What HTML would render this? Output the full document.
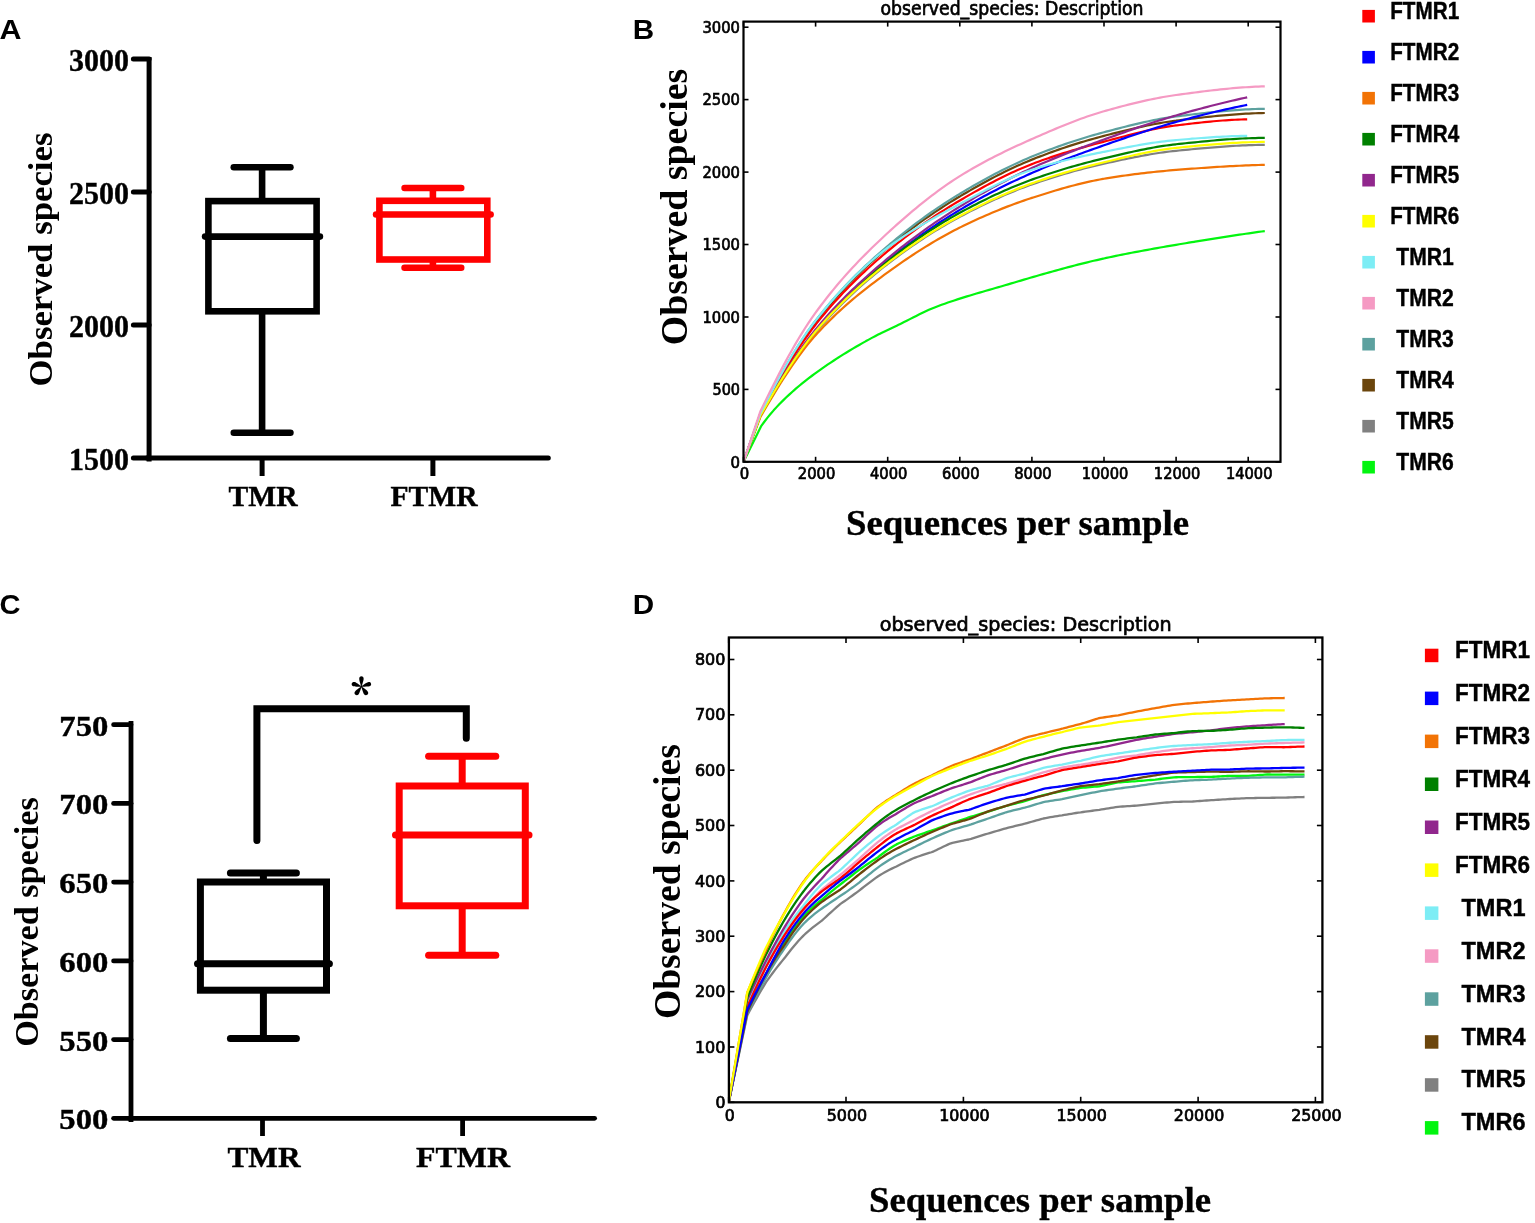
<!DOCTYPE html><html><head><meta charset="utf-8"><title>Observed species</title><style>html,body{margin:0;padding:0;background:#fff;}svg{display:block;}</style></head><body>
<div id="fig"><svg width="1535" height="1223" viewBox="0 0 1535 1223">
<defs>
<clipPath id="clipB"><rect x="743.5" y="21.6" width="537.0" height="440.2"/></clipPath>
<clipPath id="clipD"><rect x="728.9" y="637.5" width="593.5" height="464.8"/></clipPath>
</defs>
<rect x="0" y="0" width="1535" height="1223" fill="#fff"/>
<text x="-0.5" y="38.8" font-family="'Liberation Sans', Arial, sans-serif" font-size="27.5" font-weight="bold" text-anchor="start" fill="#000" textLength="22.0" lengthAdjust="spacingAndGlyphs">A</text>
<line x1="149.1" y1="57.0" x2="149.1" y2="461.5" stroke="#000" stroke-width="5.0" stroke-linecap="butt"/>
<line x1="147.0" y1="457.9" x2="548.3" y2="457.9" stroke="#000" stroke-width="5.0" stroke-linecap="round"/>
<line x1="133.4" y1="58.9" x2="149.1" y2="58.9" stroke="#000" stroke-width="5.0" stroke-linecap="round"/>
<text x="129.0" y="70.5" font-family="'Liberation Serif', 'Times New Roman', serif" font-size="32" font-weight="bold" text-anchor="end" fill="#000" textLength="60.0" lengthAdjust="spacingAndGlyphs" stroke="#000" stroke-width="0.4">3000</text>
<line x1="133.4" y1="191.9" x2="149.1" y2="191.9" stroke="#000" stroke-width="5.0" stroke-linecap="round"/>
<text x="129.0" y="203.5" font-family="'Liberation Serif', 'Times New Roman', serif" font-size="32" font-weight="bold" text-anchor="end" fill="#000" textLength="60.0" lengthAdjust="spacingAndGlyphs" stroke="#000" stroke-width="0.4">2500</text>
<line x1="133.4" y1="324.9" x2="149.1" y2="324.9" stroke="#000" stroke-width="5.0" stroke-linecap="round"/>
<text x="129.0" y="336.5" font-family="'Liberation Serif', 'Times New Roman', serif" font-size="32" font-weight="bold" text-anchor="end" fill="#000" textLength="60.0" lengthAdjust="spacingAndGlyphs" stroke="#000" stroke-width="0.4">2000</text>
<line x1="133.4" y1="457.9" x2="149.1" y2="457.9" stroke="#000" stroke-width="5.0" stroke-linecap="round"/>
<text x="129.0" y="469.5" font-family="'Liberation Serif', 'Times New Roman', serif" font-size="32" font-weight="bold" text-anchor="end" fill="#000" textLength="60.0" lengthAdjust="spacingAndGlyphs" stroke="#000" stroke-width="0.4">1500</text>
<line x1="262.1" y1="457.9" x2="262.1" y2="476.0" stroke="#000" stroke-width="5.0" stroke-linecap="butt"/>
<line x1="432.9" y1="457.9" x2="432.9" y2="476.0" stroke="#000" stroke-width="5.0" stroke-linecap="butt"/>
<text x="263.0" y="506.3" font-family="'Liberation Serif', 'Times New Roman', serif" font-size="29.5" font-weight="bold" text-anchor="middle" fill="#000" textLength="69.0" lengthAdjust="spacingAndGlyphs" stroke="#000" stroke-width="0.4">TMR</text>
<text x="434.0" y="506.3" font-family="'Liberation Serif', 'Times New Roman', serif" font-size="29.5" font-weight="bold" text-anchor="middle" fill="#000" textLength="87.0" lengthAdjust="spacingAndGlyphs" stroke="#000" stroke-width="0.4">FTMR</text>
<text transform="translate(52.0,259.5) rotate(-90)" x="0" y="0" font-family="'Liberation Serif', 'Times New Roman', serif" font-size="34.5" font-weight="bold" text-anchor="middle" textLength="254.0" lengthAdjust="spacingAndGlyphs">Observed species</text>
<line x1="262.1" y1="167.3" x2="262.1" y2="201.1" stroke="#000" stroke-width="6.6" stroke-linecap="butt"/>
<line x1="262.1" y1="311.3" x2="262.1" y2="432.7" stroke="#000" stroke-width="6.6" stroke-linecap="butt"/>
<line x1="233.8" y1="167.3" x2="290.4" y2="167.3" stroke="#000" stroke-width="6.6" stroke-linecap="round"/>
<line x1="233.8" y1="432.7" x2="290.4" y2="432.7" stroke="#000" stroke-width="6.6" stroke-linecap="round"/>
<rect x="208.4" y="201.1" width="108.2" height="110.2" fill="none" stroke="#000" stroke-width="6.6"/>
<line x1="205.1" y1="236.6" x2="319.9" y2="236.6" stroke="#000" stroke-width="6.6" stroke-linecap="round"/>
<line x1="432.9" y1="188.0" x2="432.9" y2="200.8" stroke="#ff0000" stroke-width="6.6" stroke-linecap="butt"/>
<line x1="432.9" y1="259.5" x2="432.9" y2="267.7" stroke="#ff0000" stroke-width="6.6" stroke-linecap="butt"/>
<line x1="404.6" y1="188.0" x2="461.2" y2="188.0" stroke="#ff0000" stroke-width="6.6" stroke-linecap="round"/>
<line x1="404.6" y1="267.7" x2="461.2" y2="267.7" stroke="#ff0000" stroke-width="6.6" stroke-linecap="round"/>
<rect x="379.4" y="200.8" width="107.9" height="58.7" fill="none" stroke="#ff0000" stroke-width="6.6"/>
<line x1="376.1" y1="214.5" x2="490.6" y2="214.5" stroke="#ff0000" stroke-width="6.6" stroke-linecap="round"/>
<text x="-0.6" y="613.8" font-family="'Liberation Sans', Arial, sans-serif" font-size="27.5" font-weight="bold" text-anchor="start" fill="#000" textLength="21.0" lengthAdjust="spacingAndGlyphs">C</text>
<line x1="131.0" y1="721.0" x2="131.0" y2="1122.0" stroke="#000" stroke-width="4.8" stroke-linecap="butt"/>
<line x1="129.0" y1="1118.3" x2="594.6" y2="1118.3" stroke="#000" stroke-width="4.8" stroke-linecap="round"/>
<line x1="113.6" y1="1118.3" x2="131.0" y2="1118.3" stroke="#000" stroke-width="4.8" stroke-linecap="round"/>
<text x="108.3" y="1129.3" font-family="'Liberation Serif', 'Times New Roman', serif" font-size="29.5" font-weight="bold" text-anchor="end" fill="#000" textLength="49.0" lengthAdjust="spacingAndGlyphs" stroke="#000" stroke-width="0.4">500</text>
<line x1="113.6" y1="1039.6" x2="131.0" y2="1039.6" stroke="#000" stroke-width="4.8" stroke-linecap="round"/>
<text x="108.3" y="1050.6" font-family="'Liberation Serif', 'Times New Roman', serif" font-size="29.5" font-weight="bold" text-anchor="end" fill="#000" textLength="49.0" lengthAdjust="spacingAndGlyphs" stroke="#000" stroke-width="0.4">550</text>
<line x1="113.6" y1="960.9" x2="131.0" y2="960.9" stroke="#000" stroke-width="4.8" stroke-linecap="round"/>
<text x="108.3" y="971.9" font-family="'Liberation Serif', 'Times New Roman', serif" font-size="29.5" font-weight="bold" text-anchor="end" fill="#000" textLength="49.0" lengthAdjust="spacingAndGlyphs" stroke="#000" stroke-width="0.4">600</text>
<line x1="113.6" y1="882.1" x2="131.0" y2="882.1" stroke="#000" stroke-width="4.8" stroke-linecap="round"/>
<text x="108.3" y="893.1" font-family="'Liberation Serif', 'Times New Roman', serif" font-size="29.5" font-weight="bold" text-anchor="end" fill="#000" textLength="49.0" lengthAdjust="spacingAndGlyphs" stroke="#000" stroke-width="0.4">650</text>
<line x1="113.6" y1="803.4" x2="131.0" y2="803.4" stroke="#000" stroke-width="4.8" stroke-linecap="round"/>
<text x="108.3" y="814.4" font-family="'Liberation Serif', 'Times New Roman', serif" font-size="29.5" font-weight="bold" text-anchor="end" fill="#000" textLength="49.0" lengthAdjust="spacingAndGlyphs" stroke="#000" stroke-width="0.4">700</text>
<line x1="113.6" y1="724.7" x2="131.0" y2="724.7" stroke="#000" stroke-width="4.8" stroke-linecap="round"/>
<text x="108.3" y="735.7" font-family="'Liberation Serif', 'Times New Roman', serif" font-size="29.5" font-weight="bold" text-anchor="end" fill="#000" textLength="49.0" lengthAdjust="spacingAndGlyphs" stroke="#000" stroke-width="0.4">750</text>
<line x1="262.5" y1="1118.3" x2="262.5" y2="1136.0" stroke="#000" stroke-width="4.8" stroke-linecap="butt"/>
<line x1="462.6" y1="1118.3" x2="462.6" y2="1136.0" stroke="#000" stroke-width="4.8" stroke-linecap="butt"/>
<text x="264.0" y="1166.6" font-family="'Liberation Serif', 'Times New Roman', serif" font-size="29.5" font-weight="bold" text-anchor="middle" fill="#000" textLength="73.0" lengthAdjust="spacingAndGlyphs" stroke="#000" stroke-width="0.4">TMR</text>
<text x="463.0" y="1166.6" font-family="'Liberation Serif', 'Times New Roman', serif" font-size="29.5" font-weight="bold" text-anchor="middle" fill="#000" textLength="94.0" lengthAdjust="spacingAndGlyphs" stroke="#000" stroke-width="0.4">FTMR</text>
<text transform="translate(37.6,922.0) rotate(-90)" x="0" y="0" font-family="'Liberation Serif', 'Times New Roman', serif" font-size="34" font-weight="bold" text-anchor="middle" textLength="249.5" lengthAdjust="spacingAndGlyphs">Observed species</text>
<line x1="263.4" y1="873.0" x2="263.4" y2="882.0" stroke="#000" stroke-width="7.0" stroke-linecap="butt"/>
<line x1="263.4" y1="990.2" x2="263.4" y2="1038.5" stroke="#000" stroke-width="7.0" stroke-linecap="butt"/>
<line x1="230.4" y1="873.0" x2="296.4" y2="873.0" stroke="#000" stroke-width="7.0" stroke-linecap="round"/>
<line x1="230.4" y1="1038.5" x2="296.4" y2="1038.5" stroke="#000" stroke-width="7.0" stroke-linecap="round"/>
<rect x="200.4" y="882.0" width="126.1" height="108.2" fill="none" stroke="#000" stroke-width="7.0"/>
<line x1="197.5" y1="963.7" x2="329.4" y2="963.7" stroke="#000" stroke-width="7.0" stroke-linecap="round"/>
<line x1="462.2" y1="756.3" x2="462.2" y2="786.0" stroke="#ff0000" stroke-width="7.0" stroke-linecap="butt"/>
<line x1="462.2" y1="905.8" x2="462.2" y2="955.2" stroke="#ff0000" stroke-width="7.0" stroke-linecap="butt"/>
<line x1="428.6" y1="756.3" x2="495.8" y2="756.3" stroke="#ff0000" stroke-width="7.0" stroke-linecap="round"/>
<line x1="428.6" y1="955.2" x2="495.8" y2="955.2" stroke="#ff0000" stroke-width="7.0" stroke-linecap="round"/>
<rect x="399.2" y="786.0" width="126.1" height="119.8" fill="none" stroke="#ff0000" stroke-width="7.0"/>
<line x1="395.5" y1="835.0" x2="529.0" y2="835.0" stroke="#ff0000" stroke-width="7.0" stroke-linecap="round"/>
<path d="M256.9,840.4 L256.9,708.7 L466.3,708.7 L466.3,738.2" fill="none" stroke="#000" stroke-width="7" stroke-linecap="round" stroke-linejoin="miter"/>
<text x="361.4" y="711.5" font-family="'Noto Serif CJK SC', 'Liberation Serif', serif" font-size="42.5" font-weight="900" text-anchor="middle" fill="#000">*</text>
<text x="632.7" y="38.8" font-family="'Liberation Sans', Arial, sans-serif" font-size="27.5" font-weight="bold" text-anchor="start" fill="#000" textLength="21.4" lengthAdjust="spacingAndGlyphs">B</text>
<g clip-path="url(#clipB)" fill="none" stroke-linejoin="round">
<path d="M743.50,461.90 L760.44,415.82 L763.62,410.29 L766.79,404.82 L769.96,399.42 L773.13,394.08 L776.30,388.83 L779.48,383.66 L782.65,378.59 L785.82,373.60 L788.99,368.72 L792.16,363.95 L795.33,359.28 L798.51,354.74 L801.68,350.31 L804.85,346.02 L808.02,341.86 L811.19,337.84 L814.37,333.97 L815.60,332.50 L817.54,330.23 L820.71,326.58 L823.88,323.00 L827.05,319.50 L830.23,316.06 L833.40,312.70 L836.57,309.40 L839.74,306.17 L842.91,303.00 L846.09,299.90 L849.26,296.85 L852.43,293.86 L855.60,290.93 L858.77,288.05 L861.95,285.22 L865.12,282.45 L868.29,279.72 L871.46,277.04 L874.63,274.40 L877.81,271.81 L880.98,269.25 L884.15,266.74 L887.32,264.26 L887.70,263.97 L890.49,261.82 L893.67,259.41 L896.84,257.03 L900.01,254.69 L903.18,252.38 L906.35,250.11 L909.52,247.87 L912.70,245.67 L915.87,243.50 L919.04,241.36 L922.21,239.25 L925.38,237.18 L928.56,235.15 L931.73,233.14 L934.90,231.17 L938.07,229.24 L941.24,227.33 L944.42,225.47 L947.59,223.63 L950.76,221.83 L953.93,220.06 L957.10,218.32 L959.80,216.87 L960.28,216.62 L963.45,214.94 L966.62,213.28 L969.79,211.64 L972.96,210.02 L976.14,208.43 L979.31,206.85 L982.48,205.30 L985.65,203.76 L988.82,202.26 L992.00,200.77 L995.17,199.31 L998.34,197.88 L1001.51,196.47 L1004.68,195.09 L1007.86,193.74 L1011.03,192.41 L1014.20,191.11 L1017.37,189.84 L1020.54,188.60 L1023.72,187.39 L1026.89,186.22 L1030.06,185.07 L1031.90,184.42 L1033.23,183.95 L1036.40,182.85 L1039.57,181.77 L1042.75,180.71 L1045.92,179.66 L1049.09,178.63 L1052.26,177.62 L1055.43,176.63 L1058.61,175.65 L1061.78,174.69 L1064.95,173.75 L1068.12,172.83 L1071.29,171.93 L1074.47,171.04 L1077.64,170.17 L1080.81,169.33 L1083.98,168.50 L1087.15,167.68 L1090.33,166.89 L1093.50,166.12 L1096.67,165.36 L1099.84,164.63 L1103.01,163.91 L1104.00,163.70 L1106.19,163.21 L1109.36,162.52 L1112.53,161.82 L1115.70,161.13 L1118.87,160.45 L1122.05,159.78 L1125.22,159.11 L1128.39,158.45 L1131.56,157.81 L1134.73,157.18 L1137.91,156.56 L1141.08,155.96 L1144.25,155.38 L1147.42,154.81 L1150.59,154.27 L1153.76,153.75 L1156.94,153.25 L1160.11,152.77 L1163.28,152.32 L1166.45,151.90 L1169.62,151.51 L1172.80,151.14 L1175.97,150.81 L1176.10,150.80 L1179.14,150.50 L1182.31,150.19 L1185.48,149.88 L1188.66,149.57 L1191.83,149.26 L1195.00,148.96 L1198.17,148.67 L1201.34,148.38 L1204.52,148.09 L1207.69,147.82 L1210.86,147.55 L1214.03,147.29 L1217.20,147.04 L1220.38,146.80 L1223.55,146.56 L1226.72,146.34 L1229.89,146.14 L1233.06,145.94 L1236.24,145.76 L1239.41,145.59 L1242.58,145.44 L1245.75,145.31 L1248.92,145.19 L1252.10,145.08 L1255.27,145.00 L1258.44,144.93 L1261.61,144.89 L1264.78,144.86" stroke="#808080" stroke-width="2.2"/>
<path d="M743.50,461.90 L760.98,426.40 L764.15,422.01 L767.32,417.87 L768.74,416.11 L770.49,414.00 L773.66,410.35 L776.83,406.88 L778.79,404.81 L780.00,403.57 L783.16,400.38 L786.33,397.30 L789.50,394.33 L792.67,391.46 L793.97,390.32 L795.84,388.70 L799.01,386.02 L802.18,383.42 L805.34,380.88 L808.51,378.41 L811.68,376.00 L814.85,373.63 L815.60,373.08 L818.02,371.31 L821.19,369.05 L824.36,366.84 L827.52,364.67 L830.69,362.55 L833.86,360.47 L837.03,358.42 L837.23,358.30 L840.20,356.41 L843.37,354.43 L846.53,352.47 L849.70,350.55 L852.87,348.65 L856.04,346.79 L859.21,344.95 L862.38,343.13 L865.55,341.35 L866.07,341.05 L868.71,339.59 L871.88,337.87 L875.05,336.20 L878.22,334.56 L879.99,333.66 L881.39,332.96 L884.56,331.41 L887.73,329.90 L890.89,328.41 L894.06,326.93 L897.23,325.44 L898.51,324.82 L900.40,323.91 L903.57,322.35 L906.74,320.75 L909.91,319.13 L913.07,317.52 L916.24,315.91 L919.41,314.32 L922.58,312.77 L925.75,311.27 L928.92,309.84 L932.09,308.48 L934.67,307.44 L935.25,307.21 L938.42,306.00 L941.59,304.83 L944.76,303.68 L947.93,302.57 L951.10,301.49 L954.27,300.43 L957.43,299.40 L960.60,298.38 L963.77,297.39 L966.94,296.42 L970.11,295.46 L973.28,294.51 L976.45,293.57 L979.61,292.64 L982.78,291.72 L985.95,290.80 L989.12,289.88 L992.29,288.97 L995.46,288.04 L998.63,287.12 L1000.00,286.72 L1001.79,286.19 L1004.96,285.25 L1008.13,284.32 L1011.30,283.38 L1014.47,282.45 L1017.64,281.52 L1020.80,280.58 L1023.97,279.66 L1027.14,278.73 L1030.31,277.80 L1033.48,276.88 L1036.65,275.97 L1039.82,275.06 L1042.98,274.15 L1046.15,273.25 L1049.32,272.36 L1052.49,271.47 L1055.66,270.59 L1058.83,269.72 L1062.00,268.86 L1065.16,268.00 L1068.33,267.16 L1071.50,266.32 L1074.67,265.50 L1077.84,264.68 L1081.01,263.88 L1084.18,263.09 L1087.34,262.32 L1090.51,261.55 L1093.68,260.80 L1096.85,260.07 L1100.02,259.34 L1103.19,258.64 L1104.00,258.46 L1106.36,257.95 L1109.52,257.27 L1112.69,256.60 L1115.86,255.94 L1119.03,255.29 L1122.20,254.64 L1125.37,254.01 L1128.54,253.39 L1131.70,252.77 L1134.87,252.17 L1138.04,251.57 L1141.21,250.97 L1144.38,250.39 L1147.55,249.81 L1150.72,249.23 L1153.88,248.67 L1157.05,248.10 L1160.22,247.54 L1163.39,246.99 L1166.56,246.44 L1169.73,245.90 L1172.90,245.36 L1176.06,244.82 L1179.23,244.28 L1182.40,243.75 L1185.57,243.22 L1188.74,242.69 L1191.91,242.17 L1194.12,241.80 L1195.07,241.64 L1198.24,241.12 L1201.41,240.60 L1204.58,240.08 L1207.75,239.57 L1210.92,239.06 L1214.09,238.56 L1217.25,238.06 L1220.42,237.57 L1223.59,237.08 L1226.76,236.59 L1229.93,236.11 L1233.10,235.63 L1236.27,235.16 L1239.43,234.69 L1242.60,234.22 L1245.77,233.76 L1248.94,233.30 L1252.11,232.85 L1255.28,232.40 L1258.45,231.95 L1261.61,231.51 L1264.78,231.07" stroke="#02f50f" stroke-width="2.2"/>
<path d="M743.50,461.90 L760.44,413.50 L763.62,407.42 L766.79,401.40 L769.96,395.45 L773.13,389.59 L776.30,383.81 L779.48,378.13 L782.65,372.55 L785.82,367.08 L788.99,361.72 L792.16,356.48 L795.33,351.36 L798.51,346.38 L801.68,341.53 L804.85,336.83 L808.02,332.28 L811.19,327.89 L814.37,323.67 L815.60,322.07 L817.54,319.60 L820.71,315.62 L823.88,311.73 L827.05,307.92 L830.23,304.19 L833.40,300.54 L836.57,296.96 L839.74,293.46 L842.91,290.02 L846.09,286.66 L849.26,283.36 L852.43,280.13 L855.60,276.95 L858.77,273.84 L861.95,270.78 L865.12,267.77 L868.29,264.82 L871.46,261.92 L874.63,259.06 L877.81,256.25 L880.98,253.48 L884.15,250.75 L887.32,248.06 L887.70,247.74 L890.49,245.40 L893.67,242.79 L896.84,240.21 L900.01,237.67 L903.18,235.17 L906.35,232.71 L909.52,230.29 L912.70,227.90 L915.87,225.55 L919.04,223.23 L922.21,220.95 L925.38,218.71 L928.56,216.50 L931.73,214.32 L934.90,212.17 L938.07,210.06 L941.24,207.98 L944.42,205.94 L947.59,203.92 L950.76,201.94 L953.93,199.98 L957.10,198.06 L959.80,196.44 L960.28,196.16 L963.45,194.29 L966.62,192.43 L969.79,190.59 L972.96,188.77 L976.14,186.97 L979.31,185.19 L982.48,183.43 L985.65,181.70 L988.82,179.99 L992.00,178.31 L995.17,176.65 L998.34,175.02 L1001.51,173.41 L1004.68,171.84 L1007.86,170.29 L1011.03,168.77 L1014.20,167.29 L1017.37,165.84 L1020.54,164.42 L1023.72,163.04 L1026.89,161.69 L1030.06,160.38 L1031.90,159.64 L1033.23,159.11 L1036.40,157.85 L1039.57,156.62 L1042.75,155.41 L1045.92,154.21 L1049.09,153.04 L1052.26,151.88 L1055.43,150.75 L1058.61,149.63 L1061.78,148.54 L1064.95,147.46 L1068.12,146.41 L1071.29,145.37 L1074.47,144.36 L1077.64,143.36 L1080.81,142.39 L1083.98,141.43 L1087.15,140.50 L1090.33,139.58 L1093.50,138.69 L1096.67,137.82 L1099.84,136.96 L1103.01,136.13 L1104.00,135.88 L1106.19,135.31 L1109.36,134.50 L1112.53,133.69 L1115.70,132.89 L1118.87,132.09 L1122.05,131.30 L1125.22,130.53 L1128.39,129.76 L1131.56,129.01 L1134.73,128.27 L1137.91,127.55 L1141.08,126.85 L1144.25,126.16 L1147.42,125.50 L1150.59,124.85 L1153.76,124.23 L1156.94,123.64 L1160.11,123.07 L1163.28,122.53 L1166.45,122.02 L1169.62,121.54 L1172.80,121.09 L1175.97,120.68 L1176.10,120.66 L1179.14,120.28 L1182.31,119.89 L1185.48,119.50 L1188.66,119.12 L1191.83,118.74 L1195.00,118.36 L1198.17,117.99 L1201.34,117.63 L1204.52,117.28 L1207.69,116.93 L1210.86,116.59 L1214.03,116.27 L1217.20,115.95 L1220.38,115.64 L1223.55,115.35 L1226.72,115.07 L1229.89,114.80 L1233.06,114.55 L1236.24,114.32 L1239.41,114.09 L1242.58,113.89 L1245.75,113.70 L1248.92,113.53 L1252.10,113.38 L1255.27,113.25 L1258.44,113.14 L1261.61,113.05 L1264.78,112.98" stroke="#6b450c" stroke-width="2.2"/>
<path d="M743.50,461.90 L760.44,413.21 L763.62,407.04 L766.79,400.93 L769.96,394.90 L773.13,388.95 L776.30,383.09 L779.48,377.33 L782.65,371.68 L785.82,366.13 L788.99,360.70 L792.16,355.39 L795.33,350.21 L798.51,345.17 L801.68,340.27 L804.85,335.52 L808.02,330.92 L811.19,326.49 L814.37,322.23 L815.60,320.62 L817.54,318.13 L820.71,314.13 L823.88,310.21 L827.05,306.39 L830.23,302.64 L833.40,298.98 L836.57,295.39 L839.74,291.88 L842.91,288.44 L846.09,285.07 L849.26,281.77 L852.43,278.53 L855.60,275.35 L858.77,272.24 L861.95,269.17 L865.12,266.16 L868.29,263.20 L871.46,260.28 L874.63,257.41 L877.81,254.59 L880.98,251.80 L884.15,249.04 L887.32,246.32 L887.70,246.00 L890.49,243.63 L893.67,240.99 L896.84,238.37 L900.01,235.80 L903.18,233.26 L906.35,230.76 L909.52,228.29 L912.70,225.86 L915.87,223.47 L919.04,221.11 L922.21,218.79 L925.38,216.50 L928.56,214.24 L931.73,212.02 L934.90,209.84 L938.07,207.69 L941.24,205.57 L944.42,203.48 L947.59,201.43 L950.76,199.41 L953.93,197.43 L957.10,195.47 L959.80,193.83 L960.28,193.55 L963.45,191.65 L966.62,189.77 L969.79,187.91 L972.96,186.07 L976.14,184.25 L979.31,182.45 L982.48,180.67 L985.65,178.92 L988.82,177.20 L992.00,175.50 L995.17,173.82 L998.34,172.17 L1001.51,170.55 L1004.68,168.96 L1007.86,167.40 L1011.03,165.87 L1014.20,164.37 L1017.37,162.90 L1020.54,161.46 L1023.72,160.06 L1026.89,158.69 L1030.06,157.35 L1031.90,156.60 L1033.23,156.05 L1036.40,154.78 L1039.57,153.52 L1042.75,152.28 L1045.92,151.06 L1049.09,149.86 L1052.26,148.68 L1055.43,147.52 L1058.61,146.38 L1061.78,145.26 L1064.95,144.16 L1068.12,143.08 L1071.29,142.02 L1074.47,140.98 L1077.64,139.96 L1080.81,138.96 L1083.98,137.98 L1087.15,137.02 L1090.33,136.07 L1093.50,135.15 L1096.67,134.25 L1099.84,133.37 L1103.01,132.52 L1104.00,132.25 L1106.19,131.67 L1109.36,130.83 L1112.53,129.99 L1115.70,129.16 L1118.87,128.33 L1122.05,127.51 L1125.22,126.70 L1128.39,125.90 L1131.56,125.12 L1134.73,124.35 L1137.91,123.60 L1141.08,122.86 L1144.25,122.15 L1147.42,121.45 L1150.59,120.78 L1153.76,120.14 L1156.94,119.52 L1160.11,118.93 L1163.28,118.37 L1166.45,117.85 L1169.62,117.35 L1172.80,116.90 L1175.97,116.48 L1176.10,116.46 L1179.14,116.08 L1182.31,115.68 L1185.48,115.29 L1188.66,114.89 L1191.83,114.51 L1195.00,114.13 L1198.17,113.75 L1201.34,113.39 L1204.52,113.03 L1207.69,112.68 L1210.86,112.34 L1214.03,112.01 L1217.20,111.69 L1220.38,111.38 L1223.55,111.08 L1226.72,110.80 L1229.89,110.53 L1233.06,110.28 L1236.24,110.05 L1239.41,109.83 L1242.58,109.63 L1245.75,109.44 L1248.92,109.28 L1252.10,109.14 L1255.27,109.01 L1258.44,108.91 L1261.61,108.83 L1264.78,108.78" stroke="#5da19f" stroke-width="2.2"/>
<path d="M743.50,461.90 L760.44,414.08 L763.50,408.35 L766.57,402.68 L769.63,397.08 L772.69,391.55 L775.75,386.09 L778.81,380.72 L781.87,375.44 L784.93,370.25 L788.00,365.17 L791.06,360.18 L794.12,355.31 L797.18,350.55 L800.24,345.92 L803.30,341.41 L806.36,337.03 L809.42,332.79 L812.49,328.70 L815.55,324.75 L815.60,324.68 L818.61,320.91 L821.67,317.16 L824.73,313.48 L827.79,309.87 L830.85,306.34 L833.91,302.87 L836.98,299.47 L840.04,296.14 L843.10,292.87 L846.16,289.66 L849.22,286.51 L852.28,283.42 L855.34,280.39 L858.41,277.40 L861.47,274.48 L864.53,271.60 L867.59,268.76 L870.65,265.98 L873.71,263.24 L876.77,260.54 L879.83,257.88 L882.90,255.26 L885.96,252.67 L887.70,251.22 L889.02,250.12 L892.08,247.61 L895.14,245.13 L898.20,242.69 L901.26,240.28 L904.32,237.91 L907.39,235.57 L910.45,233.27 L913.51,231.00 L916.57,228.77 L919.63,226.57 L922.69,224.39 L925.75,222.26 L928.82,220.15 L931.88,218.07 L934.94,216.03 L938.00,214.01 L941.06,212.03 L944.12,210.07 L947.18,208.15 L950.24,206.25 L953.31,204.38 L956.37,202.53 L959.43,200.72 L959.80,200.50 L962.49,198.93 L965.55,197.14 L968.61,195.38 L971.67,193.63 L974.73,191.89 L977.80,190.18 L980.86,188.48 L983.92,186.81 L986.98,185.15 L990.04,183.52 L993.10,181.91 L996.16,180.33 L999.23,178.77 L1002.29,177.25 L1005.35,175.75 L1008.41,174.28 L1011.47,172.84 L1014.53,171.43 L1017.59,170.06 L1020.65,168.72 L1023.72,167.42 L1026.78,166.16 L1029.84,164.93 L1031.90,164.13 L1032.90,163.75 L1035.96,162.59 L1039.02,161.45 L1042.08,160.34 L1045.14,159.26 L1048.21,158.19 L1051.27,157.14 L1054.33,156.12 L1057.39,155.11 L1060.45,154.13 L1063.51,153.16 L1066.57,152.21 L1069.64,151.27 L1072.70,150.35 L1075.76,149.45 L1078.82,148.56 L1081.88,147.68 L1084.94,146.82 L1088.00,145.96 L1091.06,145.12 L1094.13,144.29 L1097.19,143.47 L1100.25,142.66 L1103.31,141.85 L1104.00,141.67 L1106.37,141.05 L1109.43,140.24 L1112.49,139.43 L1115.55,138.62 L1118.62,137.81 L1121.68,137.00 L1124.74,136.19 L1127.80,135.39 L1130.86,134.61 L1133.92,133.83 L1136.98,133.07 L1140.05,132.32 L1143.11,131.59 L1146.17,130.88 L1149.23,130.19 L1152.29,129.53 L1155.35,128.89 L1158.41,128.29 L1161.47,127.71 L1164.54,127.16 L1167.60,126.65 L1170.66,126.18 L1173.72,125.75 L1176.10,125.44 L1176.78,125.36 L1179.84,124.98 L1182.90,124.61 L1185.96,124.24 L1189.03,123.87 L1192.09,123.51 L1195.15,123.16 L1198.21,122.82 L1201.27,122.49 L1204.33,122.16 L1207.39,121.85 L1210.45,121.56 L1213.52,121.27 L1216.58,121.00 L1219.64,120.75 L1222.70,120.51 L1225.76,120.29 L1228.82,120.09 L1231.88,119.92 L1234.95,119.76 L1238.01,119.62 L1241.07,119.51 L1244.13,119.42 L1247.19,119.36" stroke="#ff0000" stroke-width="2.2"/>
<path d="M743.50,461.90 L760.44,415.24 L763.50,409.84 L766.57,404.50 L769.63,399.22 L772.69,394.00 L775.75,388.86 L778.81,383.80 L781.87,378.82 L784.93,373.92 L788.00,369.12 L791.06,364.41 L794.12,359.80 L797.18,355.31 L800.24,350.92 L803.30,346.65 L806.36,342.50 L809.42,338.48 L812.49,334.58 L815.55,330.83 L815.60,330.77 L818.61,327.18 L821.67,323.61 L824.73,320.11 L827.79,316.69 L830.85,313.33 L833.91,310.03 L836.98,306.80 L840.04,303.64 L843.10,300.53 L846.16,297.47 L849.22,294.48 L852.28,291.53 L855.34,288.64 L858.41,285.79 L861.47,282.98 L864.53,280.22 L867.59,277.51 L870.65,274.82 L873.71,272.18 L876.77,269.57 L879.83,266.99 L882.90,264.44 L885.96,261.91 L887.70,260.49 L889.02,259.42 L892.08,256.95 L895.14,254.51 L898.20,252.10 L901.26,249.73 L904.32,247.38 L907.39,245.07 L910.45,242.78 L913.51,240.52 L916.57,238.30 L919.63,236.10 L922.69,233.93 L925.75,231.79 L928.82,229.68 L931.88,227.60 L934.94,225.55 L938.00,223.53 L941.06,221.53 L944.12,219.56 L947.18,217.62 L950.24,215.71 L953.31,213.83 L956.37,211.97 L959.43,210.14 L959.80,209.92 L962.49,208.33 L965.55,206.55 L968.61,204.79 L971.67,203.05 L974.73,201.34 L977.80,199.64 L980.86,197.97 L983.92,196.31 L986.98,194.68 L990.04,193.07 L993.10,191.47 L996.16,189.90 L999.23,188.35 L1002.29,186.82 L1005.35,185.30 L1008.41,183.81 L1011.47,182.34 L1014.53,180.88 L1017.59,179.44 L1020.65,178.03 L1023.72,176.63 L1026.78,175.24 L1029.84,173.88 L1031.90,172.97 L1032.90,172.53 L1035.96,171.20 L1039.02,169.90 L1042.08,168.61 L1045.14,167.33 L1048.21,166.08 L1051.27,164.84 L1054.33,163.62 L1057.39,162.41 L1060.45,161.21 L1063.51,160.03 L1066.57,158.86 L1069.64,157.70 L1072.70,156.56 L1075.76,155.42 L1078.82,154.30 L1081.88,153.18 L1084.94,152.07 L1088.00,150.97 L1091.06,149.87 L1094.13,148.78 L1097.19,147.69 L1100.25,146.61 L1103.31,145.54 L1104.00,145.29 L1106.37,144.46 L1109.43,143.39 L1112.49,142.32 L1115.55,141.26 L1118.62,140.20 L1121.68,139.14 L1124.74,138.09 L1127.80,137.05 L1130.86,136.01 L1133.92,134.98 L1136.98,133.96 L1140.05,132.95 L1143.11,131.95 L1146.17,130.96 L1149.23,129.98 L1152.29,129.01 L1155.35,128.06 L1158.41,127.12 L1161.47,126.19 L1164.54,125.27 L1167.60,124.38 L1170.66,123.49 L1173.72,122.63 L1176.10,121.96 L1176.78,121.78 L1179.84,120.94 L1182.90,120.11 L1185.96,119.29 L1189.03,118.47 L1192.09,117.67 L1195.15,116.87 L1198.21,116.08 L1201.27,115.30 L1204.33,114.53 L1207.39,113.77 L1210.45,113.02 L1213.52,112.28 L1216.58,111.55 L1219.64,110.84 L1222.70,110.13 L1225.76,109.43 L1228.82,108.74 L1231.88,108.07 L1234.95,107.40 L1238.01,106.75 L1241.07,106.11 L1244.13,105.48 L1247.19,104.87" stroke="#0000ff" stroke-width="2.2"/>
<path d="M743.50,461.90 L760.44,416.98 L763.62,411.47 L766.79,406.03 L769.96,400.66 L773.13,395.36 L776.30,390.15 L779.48,385.03 L782.65,380.01 L785.82,375.09 L788.99,370.28 L792.16,365.60 L795.33,361.03 L798.51,356.60 L801.68,352.30 L804.85,348.15 L808.02,344.16 L811.19,340.32 L814.37,336.64 L815.60,335.26 L817.54,333.12 L820.71,329.70 L823.88,326.36 L827.05,323.11 L830.23,319.94 L833.40,316.84 L836.57,313.82 L839.74,310.86 L842.91,307.98 L846.09,305.15 L849.26,302.39 L852.43,299.68 L855.60,297.03 L858.77,294.42 L861.95,291.86 L865.12,289.35 L868.29,286.87 L871.46,284.43 L874.63,282.02 L877.81,279.64 L880.98,277.29 L884.15,274.96 L887.32,272.65 L887.70,272.37 L890.49,270.35 L893.67,268.09 L896.84,265.84 L900.01,263.62 L903.18,261.43 L906.35,259.27 L909.52,257.13 L912.70,255.02 L915.87,252.94 L919.04,250.89 L922.21,248.88 L925.38,246.89 L928.56,244.94 L931.73,243.02 L934.90,241.13 L938.07,239.28 L941.24,237.46 L944.42,235.68 L947.59,233.94 L950.76,232.24 L953.93,230.57 L957.10,228.95 L959.80,227.60 L960.28,227.36 L963.45,225.80 L966.62,224.27 L969.79,222.76 L972.96,221.26 L976.14,219.80 L979.31,218.35 L982.48,216.93 L985.65,215.53 L988.82,214.15 L992.00,212.80 L995.17,211.47 L998.34,210.17 L1001.51,208.89 L1004.68,207.63 L1007.86,206.40 L1011.03,205.19 L1014.20,204.01 L1017.37,202.86 L1020.54,201.73 L1023.72,200.62 L1026.89,199.54 L1030.06,198.49 L1031.90,197.89 L1033.23,197.46 L1036.40,196.44 L1039.57,195.43 L1042.75,194.43 L1045.92,193.44 L1049.09,192.45 L1052.26,191.49 L1055.43,190.53 L1058.61,189.59 L1061.78,188.67 L1064.95,187.77 L1068.12,186.88 L1071.29,186.02 L1074.47,185.19 L1077.64,184.37 L1080.81,183.59 L1083.98,182.83 L1087.15,182.10 L1090.33,181.40 L1093.50,180.73 L1096.67,180.09 L1099.84,179.50 L1103.01,178.93 L1104.00,178.77 L1106.19,178.40 L1109.36,177.89 L1112.53,177.38 L1115.70,176.89 L1118.87,176.41 L1122.05,175.95 L1125.22,175.50 L1128.39,175.06 L1131.56,174.63 L1134.73,174.21 L1137.91,173.81 L1141.08,173.42 L1144.25,173.04 L1147.42,172.68 L1150.59,172.33 L1153.76,171.99 L1156.94,171.66 L1160.11,171.34 L1163.28,171.04 L1166.45,170.74 L1169.62,170.46 L1172.80,170.19 L1175.97,169.94 L1176.10,169.93 L1179.14,169.69 L1182.31,169.44 L1185.48,169.19 L1188.66,168.95 L1191.83,168.71 L1195.00,168.48 L1198.17,168.24 L1201.34,168.02 L1204.52,167.79 L1207.69,167.57 L1210.86,167.36 L1214.03,167.15 L1217.20,166.95 L1220.38,166.75 L1223.55,166.56 L1226.72,166.38 L1229.89,166.21 L1233.06,166.04 L1236.24,165.88 L1239.41,165.73 L1242.58,165.58 L1245.75,165.45 L1248.92,165.33 L1252.10,165.21 L1255.27,165.11 L1258.44,165.01 L1261.61,164.93 L1264.78,164.85" stroke="#f27305" stroke-width="2.2"/>
<path d="M743.50,461.90 L760.44,415.24 L763.62,409.63 L766.79,404.09 L769.96,398.61 L773.13,393.21 L776.30,387.88 L779.48,382.64 L782.65,377.50 L785.82,372.44 L788.99,367.49 L792.16,362.65 L795.33,357.92 L798.51,353.31 L801.68,348.83 L804.85,344.47 L808.02,340.26 L811.19,336.18 L814.37,332.25 L815.60,330.77 L817.54,328.46 L820.71,324.76 L823.88,321.13 L827.05,317.58 L830.23,314.10 L833.40,310.69 L836.57,307.35 L839.74,304.08 L842.91,300.87 L846.09,297.72 L849.26,294.64 L852.43,291.61 L855.60,288.64 L858.77,285.72 L861.95,282.85 L865.12,280.03 L868.29,277.26 L871.46,274.54 L874.63,271.85 L877.81,269.21 L880.98,266.61 L884.15,264.04 L887.32,261.51 L887.70,261.21 L890.49,259.01 L893.67,256.55 L896.84,254.11 L900.01,251.71 L903.18,249.35 L906.35,247.01 L909.52,244.71 L912.70,242.44 L915.87,240.21 L919.04,238.01 L922.21,235.84 L925.38,233.71 L928.56,231.61 L931.73,229.55 L934.90,227.52 L938.07,225.52 L941.24,223.56 L944.42,221.64 L947.59,219.75 L950.76,217.90 L953.93,216.08 L957.10,214.30 L959.80,212.82 L960.28,212.56 L963.45,210.84 L966.62,209.14 L969.79,207.46 L972.96,205.81 L976.14,204.17 L979.31,202.56 L982.48,200.97 L985.65,199.41 L988.82,197.87 L992.00,196.35 L995.17,194.86 L998.34,193.40 L1001.51,191.96 L1004.68,190.55 L1007.86,189.17 L1011.03,187.81 L1014.20,186.49 L1017.37,185.19 L1020.54,183.92 L1023.72,182.69 L1026.89,181.48 L1030.06,180.30 L1031.90,179.63 L1033.23,179.16 L1036.40,178.03 L1039.57,176.93 L1042.75,175.84 L1045.92,174.77 L1049.09,173.72 L1052.26,172.69 L1055.43,171.68 L1058.61,170.69 L1061.78,169.71 L1064.95,168.75 L1068.12,167.81 L1071.29,166.88 L1074.47,165.98 L1077.64,165.09 L1080.81,164.21 L1083.98,163.36 L1087.15,162.52 L1090.33,161.70 L1093.50,160.89 L1096.67,160.10 L1099.84,159.32 L1103.01,158.57 L1104.00,158.33 L1106.19,157.82 L1109.36,157.07 L1112.53,156.33 L1115.70,155.59 L1118.87,154.85 L1122.05,154.11 L1125.22,153.39 L1128.39,152.67 L1131.56,151.97 L1134.73,151.28 L1137.91,150.60 L1141.08,149.94 L1144.25,149.30 L1147.42,148.68 L1150.59,148.08 L1153.76,147.50 L1156.94,146.95 L1160.11,146.43 L1163.28,145.94 L1166.45,145.48 L1169.62,145.05 L1172.80,144.65 L1175.97,144.29 L1176.10,144.28 L1179.14,143.95 L1182.31,143.62 L1185.48,143.28 L1188.66,142.95 L1191.83,142.62 L1195.00,142.30 L1198.17,141.98 L1201.34,141.67 L1204.52,141.36 L1207.69,141.06 L1210.86,140.77 L1214.03,140.49 L1217.20,140.22 L1220.38,139.96 L1223.55,139.71 L1226.72,139.47 L1229.89,139.25 L1233.06,139.04 L1236.24,138.85 L1239.41,138.67 L1242.58,138.51 L1245.75,138.36 L1248.92,138.24 L1252.10,138.13 L1255.27,138.04 L1258.44,137.97 L1261.61,137.93 L1264.78,137.90" stroke="#008000" stroke-width="2.2"/>
<path d="M743.50,461.90 L760.44,414.81 L763.50,409.35 L766.57,403.95 L769.63,398.62 L772.69,393.35 L775.75,388.16 L778.81,383.04 L781.87,378.01 L784.93,373.06 L788.00,368.21 L791.06,363.45 L794.12,358.80 L797.18,354.25 L800.24,349.82 L803.30,345.51 L806.36,341.32 L809.42,337.25 L812.49,333.32 L815.55,329.53 L815.60,329.46 L818.61,325.84 L821.67,322.24 L824.73,318.71 L827.79,315.25 L830.85,311.86 L833.91,308.54 L836.98,305.29 L840.04,302.09 L843.10,298.96 L846.16,295.88 L849.22,292.86 L852.28,289.89 L855.34,286.97 L858.41,284.10 L861.47,281.27 L864.53,278.48 L867.59,275.73 L870.65,273.02 L873.71,270.34 L876.77,267.69 L879.83,265.07 L882.90,262.48 L885.96,259.91 L887.70,258.46 L889.02,257.37 L892.08,254.85 L895.14,252.36 L898.20,249.91 L901.26,247.48 L904.32,245.08 L907.39,242.72 L910.45,240.38 L913.51,238.07 L916.57,235.79 L919.63,233.54 L922.69,231.32 L925.75,229.13 L928.82,226.96 L931.88,224.82 L934.94,222.71 L938.00,220.63 L941.06,218.58 L944.12,216.55 L947.18,214.55 L950.24,212.58 L953.31,210.63 L956.37,208.71 L959.43,206.81 L959.80,206.59 L962.49,204.94 L965.55,203.09 L968.61,201.26 L971.67,199.46 L974.73,197.67 L977.80,195.90 L980.86,194.15 L983.92,192.42 L986.98,190.72 L990.04,189.03 L993.10,187.36 L996.16,185.72 L999.23,184.09 L1002.29,182.49 L1005.35,180.91 L1008.41,179.34 L1011.47,177.80 L1014.53,176.28 L1017.59,174.78 L1020.65,173.30 L1023.72,171.84 L1026.78,170.40 L1029.84,168.99 L1031.90,168.04 L1032.90,167.59 L1035.96,166.21 L1039.02,164.86 L1042.08,163.53 L1045.14,162.21 L1048.21,160.91 L1051.27,159.64 L1054.33,158.37 L1057.39,157.13 L1060.45,155.89 L1063.51,154.68 L1066.57,153.47 L1069.64,152.28 L1072.70,151.10 L1075.76,149.93 L1078.82,148.77 L1081.88,147.62 L1084.94,146.48 L1088.00,145.34 L1091.06,144.21 L1094.13,143.09 L1097.19,141.97 L1100.25,140.86 L1103.31,139.75 L1104.00,139.50 L1106.37,138.64 L1109.43,137.54 L1112.49,136.44 L1115.55,135.34 L1118.62,134.25 L1121.68,133.17 L1124.74,132.09 L1127.80,131.02 L1130.86,129.95 L1133.92,128.90 L1136.98,127.85 L1140.05,126.81 L1143.11,125.78 L1146.17,124.76 L1149.23,123.76 L1152.29,122.76 L1155.35,121.77 L1158.41,120.80 L1161.47,119.84 L1164.54,118.89 L1167.60,117.96 L1170.66,117.04 L1173.72,116.14 L1176.10,115.44 L1176.78,115.25 L1179.84,114.37 L1182.90,113.50 L1185.96,112.64 L1189.03,111.78 L1192.09,110.93 L1195.15,110.10 L1198.21,109.27 L1201.27,108.45 L1204.33,107.64 L1207.39,106.84 L1210.45,106.04 L1213.52,105.26 L1216.58,104.49 L1219.64,103.72 L1222.70,102.97 L1225.76,102.23 L1228.82,101.50 L1231.88,100.77 L1234.95,100.06 L1238.01,99.36 L1241.07,98.67 L1244.13,98.00 L1247.19,97.33" stroke="#91278d" stroke-width="2.2"/>
<path d="M743.50,461.90 L760.44,415.53 L763.62,409.94 L766.79,404.41 L769.96,398.94 L773.13,393.56 L776.30,388.25 L779.48,383.03 L782.65,377.90 L785.82,372.87 L788.99,367.94 L792.16,363.12 L795.33,358.42 L798.51,353.84 L801.68,349.38 L804.85,345.06 L808.02,340.88 L811.19,336.85 L814.37,332.96 L815.60,331.49 L817.54,329.21 L820.71,325.56 L823.88,321.98 L827.05,318.47 L830.23,315.04 L833.40,311.68 L836.57,308.39 L839.74,305.16 L842.91,302.00 L846.09,298.90 L849.26,295.87 L852.43,292.89 L855.60,289.97 L858.77,287.10 L861.95,284.29 L865.12,281.52 L868.29,278.81 L871.46,276.14 L874.63,273.51 L877.81,270.92 L880.98,268.37 L884.15,265.86 L887.32,263.39 L887.70,263.10 L890.49,260.95 L893.67,258.54 L896.84,256.17 L900.01,253.83 L903.18,251.53 L906.35,249.25 L909.52,247.02 L912.70,244.81 L915.87,242.64 L919.04,240.51 L922.21,238.40 L925.38,236.33 L928.56,234.30 L931.73,232.29 L934.90,230.32 L938.07,228.39 L941.24,226.48 L944.42,224.61 L947.59,222.77 L950.76,220.97 L953.93,219.20 L957.10,217.46 L959.80,216.00 L960.28,215.75 L963.45,214.07 L966.62,212.40 L969.79,210.76 L972.96,209.14 L976.14,207.54 L979.31,205.96 L982.48,204.40 L985.65,202.87 L988.82,201.36 L992.00,199.87 L995.17,198.41 L998.34,196.97 L1001.51,195.55 L1004.68,194.17 L1007.86,192.81 L1011.03,191.47 L1014.20,190.17 L1017.37,188.89 L1020.54,187.64 L1023.72,186.42 L1026.89,185.22 L1030.06,184.06 L1031.90,183.40 L1033.23,182.93 L1036.40,181.82 L1039.57,180.73 L1042.75,179.65 L1045.92,178.60 L1049.09,177.56 L1052.26,176.54 L1055.43,175.54 L1058.61,174.55 L1061.78,173.59 L1064.95,172.64 L1068.12,171.70 L1071.29,170.79 L1074.47,169.89 L1077.64,169.00 L1080.81,168.13 L1083.98,167.28 L1087.15,166.44 L1090.33,165.62 L1093.50,164.82 L1096.67,164.02 L1099.84,163.24 L1103.01,162.48 L1104.00,162.25 L1106.19,161.73 L1109.36,160.97 L1112.53,160.21 L1115.70,159.45 L1118.87,158.69 L1122.05,157.94 L1125.22,157.19 L1128.39,156.46 L1131.56,155.73 L1134.73,155.02 L1137.91,154.32 L1141.08,153.64 L1144.25,152.98 L1147.42,152.34 L1150.59,151.72 L1153.76,151.13 L1156.94,150.57 L1160.11,150.04 L1163.28,149.54 L1166.45,149.08 L1169.62,148.65 L1172.80,148.26 L1175.97,147.92 L1176.10,147.90 L1179.14,147.59 L1182.31,147.27 L1185.48,146.95 L1188.66,146.63 L1191.83,146.32 L1195.00,146.01 L1198.17,145.71 L1201.34,145.41 L1204.52,145.12 L1207.69,144.84 L1210.86,144.57 L1214.03,144.30 L1217.20,144.05 L1220.38,143.81 L1223.55,143.57 L1226.72,143.35 L1229.89,143.15 L1233.06,142.95 L1236.24,142.78 L1239.41,142.61 L1242.58,142.47 L1245.75,142.34 L1248.92,142.23 L1252.10,142.13 L1255.27,142.06 L1258.44,142.00 L1261.61,141.97 L1264.78,141.96" stroke="#ffff00" stroke-width="2.2"/>
<path d="M743.50,461.90 L760.44,413.21 L763.50,407.22 L766.57,401.29 L769.63,395.44 L772.69,389.66 L775.75,383.97 L778.81,378.37 L781.87,372.87 L784.93,367.48 L788.00,362.19 L791.06,357.02 L794.12,351.98 L797.18,347.07 L800.24,342.29 L803.30,337.66 L806.36,333.18 L809.42,328.85 L812.49,324.69 L815.55,320.69 L815.60,320.62 L818.61,316.82 L821.67,313.02 L824.73,309.29 L827.79,305.63 L830.85,302.05 L833.91,298.53 L836.98,295.08 L840.04,291.71 L843.10,288.40 L846.16,285.16 L849.22,281.99 L852.28,278.88 L855.34,275.84 L858.41,272.87 L861.47,269.97 L864.53,267.13 L867.59,264.36 L870.65,261.65 L873.71,259.00 L876.77,256.43 L879.83,253.91 L882.90,251.46 L885.96,249.07 L887.70,247.74 L889.02,246.74 L892.08,244.48 L895.14,242.26 L898.20,240.10 L901.26,238.00 L904.32,235.94 L907.39,233.92 L910.45,231.95 L913.51,230.02 L916.57,228.13 L919.63,226.27 L922.69,224.44 L925.75,222.65 L928.82,220.88 L931.88,219.14 L934.94,217.42 L938.00,215.72 L941.06,214.04 L944.12,212.37 L947.18,210.72 L950.24,209.08 L953.31,207.44 L956.37,205.81 L959.43,204.18 L959.80,203.98 L962.49,202.54 L965.55,200.90 L968.61,199.26 L971.67,197.62 L974.73,195.99 L977.80,194.36 L980.86,192.73 L983.92,191.13 L986.98,189.53 L990.04,187.96 L993.10,186.40 L996.16,184.87 L999.23,183.37 L1002.29,181.89 L1005.35,180.45 L1008.41,179.05 L1011.47,177.68 L1014.53,176.36 L1017.59,175.08 L1020.65,173.85 L1023.72,172.67 L1026.78,171.54 L1029.84,170.47 L1031.90,169.78 L1032.90,169.46 L1035.96,168.48 L1039.02,167.53 L1042.08,166.60 L1045.14,165.69 L1048.21,164.81 L1051.27,163.95 L1054.33,163.12 L1057.39,162.30 L1060.45,161.50 L1063.51,160.72 L1066.57,159.96 L1069.64,159.22 L1072.70,158.49 L1075.76,157.78 L1078.82,157.09 L1081.88,156.41 L1084.94,155.74 L1088.00,155.08 L1091.06,154.43 L1094.13,153.80 L1097.19,153.17 L1100.25,152.56 L1103.31,151.95 L1104.00,151.81 L1106.37,151.35 L1109.43,150.74 L1112.49,150.14 L1115.55,149.54 L1118.62,148.94 L1121.68,148.34 L1124.74,147.76 L1127.80,147.17 L1130.86,146.60 L1133.92,146.04 L1136.98,145.49 L1140.05,144.95 L1143.11,144.43 L1146.17,143.92 L1149.23,143.43 L1152.29,142.96 L1155.35,142.51 L1158.41,142.08 L1161.47,141.67 L1164.54,141.29 L1167.60,140.93 L1170.66,140.60 L1173.72,140.29 L1176.10,140.08 L1176.78,140.02 L1179.84,139.75 L1182.90,139.49 L1185.96,139.23 L1189.03,138.98 L1192.09,138.72 L1195.15,138.48 L1198.21,138.24 L1201.27,138.00 L1204.33,137.78 L1207.39,137.56 L1210.45,137.35 L1213.52,137.15 L1216.58,136.97 L1219.64,136.79 L1222.70,136.63 L1225.76,136.48 L1228.82,136.34 L1231.88,136.22 L1234.95,136.12 L1238.01,136.03 L1241.07,135.96 L1244.13,135.91 L1247.19,135.88" stroke="#7dedf5" stroke-width="2.2"/>
<path d="M743.50,461.90 L760.44,411.18 L763.62,404.62 L766.79,398.12 L769.96,391.71 L773.13,385.39 L776.30,379.16 L779.48,373.03 L782.65,367.01 L785.82,361.11 L788.99,355.33 L792.16,349.68 L795.33,344.17 L798.51,338.80 L801.68,333.59 L804.85,328.53 L808.02,323.63 L811.19,318.91 L814.37,314.37 L815.60,312.65 L817.54,310.00 L820.71,305.73 L823.88,301.56 L827.05,297.48 L830.23,293.49 L833.40,289.59 L836.57,285.77 L839.74,282.04 L842.91,278.37 L846.09,274.79 L849.26,271.27 L852.43,267.82 L855.60,264.43 L858.77,261.10 L861.95,257.83 L865.12,254.61 L868.29,251.44 L871.46,248.32 L874.63,245.24 L877.81,242.21 L880.98,239.21 L884.15,236.24 L887.32,233.31 L887.70,232.96 L890.49,230.40 L893.67,227.52 L896.84,224.67 L900.01,221.85 L903.18,219.07 L906.35,216.32 L909.52,213.60 L912.70,210.92 L915.87,208.28 L919.04,205.67 L922.21,203.11 L925.38,200.58 L928.56,198.10 L931.73,195.66 L934.90,193.26 L938.07,190.92 L941.24,188.61 L944.42,186.36 L947.59,184.16 L950.76,182.00 L953.93,179.90 L957.10,177.86 L959.80,176.16 L960.28,175.86 L963.45,173.91 L966.62,172.00 L969.79,170.13 L972.96,168.29 L976.14,166.49 L979.31,164.72 L982.48,162.98 L985.65,161.27 L988.82,159.59 L992.00,157.94 L995.17,156.32 L998.34,154.72 L1001.51,153.15 L1004.68,151.60 L1007.86,150.07 L1011.03,148.56 L1014.20,147.07 L1017.37,145.60 L1020.54,144.15 L1023.72,142.71 L1026.89,141.29 L1030.06,139.88 L1031.90,139.06 L1033.23,138.48 L1036.40,137.08 L1039.57,135.69 L1042.75,134.31 L1045.92,132.93 L1049.09,131.56 L1052.26,130.21 L1055.43,128.87 L1058.61,127.54 L1061.78,126.23 L1064.95,124.94 L1068.12,123.67 L1071.29,122.42 L1074.47,121.20 L1077.64,120.00 L1080.81,118.83 L1083.98,117.68 L1087.15,116.57 L1090.33,115.49 L1093.50,114.44 L1096.67,113.43 L1099.84,112.46 L1103.01,111.52 L1104.00,111.24 L1106.19,110.62 L1109.36,109.73 L1112.53,108.85 L1115.70,107.98 L1118.87,107.13 L1122.05,106.29 L1125.22,105.46 L1128.39,104.65 L1131.56,103.85 L1134.73,103.07 L1137.91,102.32 L1141.08,101.58 L1144.25,100.86 L1147.42,100.16 L1150.59,99.49 L1153.76,98.84 L1156.94,98.21 L1160.11,97.61 L1163.28,97.04 L1166.45,96.49 L1169.62,95.97 L1172.80,95.49 L1175.97,95.03 L1176.10,95.01 L1179.14,94.59 L1182.31,94.16 L1185.48,93.73 L1188.66,93.30 L1191.83,92.88 L1195.00,92.47 L1198.17,92.06 L1201.34,91.66 L1204.52,91.26 L1207.69,90.88 L1210.86,90.51 L1214.03,90.14 L1217.20,89.79 L1220.38,89.45 L1223.55,89.12 L1226.72,88.80 L1229.89,88.50 L1233.06,88.22 L1236.24,87.95 L1239.41,87.69 L1242.58,87.45 L1245.75,87.23 L1248.92,87.03 L1252.10,86.85 L1255.27,86.68 L1258.44,86.54 L1261.61,86.42 L1264.78,86.32" stroke="#f59ac3" stroke-width="2.2"/>
</g>
<rect x="743.5" y="21.6" width="537.0" height="440.2" fill="none" stroke="#000" stroke-width="2.2"/>
<line x1="743.5" y1="461.9" x2="748.5" y2="461.9" stroke="#000" stroke-width="1.6" stroke-linecap="butt"/>
<line x1="1280.5" y1="461.9" x2="1275.5" y2="461.9" stroke="#000" stroke-width="1.6" stroke-linecap="butt"/>
<text x="740.0" y="467.5" font-family="'DejaVu Sans', 'Liberation Sans', sans-serif" font-size="15.5" font-weight="normal" text-anchor="end" fill="#000" textLength="9.5" lengthAdjust="spacingAndGlyphs" stroke="#000" stroke-width="0.7">0</text>
<line x1="743.5" y1="389.4" x2="748.5" y2="389.4" stroke="#000" stroke-width="1.6" stroke-linecap="butt"/>
<line x1="1280.5" y1="389.4" x2="1275.5" y2="389.4" stroke="#000" stroke-width="1.6" stroke-linecap="butt"/>
<text x="740.0" y="395.1" font-family="'DejaVu Sans', 'Liberation Sans', sans-serif" font-size="15.5" font-weight="normal" text-anchor="end" fill="#000" textLength="27.5" lengthAdjust="spacingAndGlyphs" stroke="#000" stroke-width="0.7">500</text>
<line x1="743.5" y1="317.0" x2="748.5" y2="317.0" stroke="#000" stroke-width="1.6" stroke-linecap="butt"/>
<line x1="1280.5" y1="317.0" x2="1275.5" y2="317.0" stroke="#000" stroke-width="1.6" stroke-linecap="butt"/>
<text x="740.0" y="322.6" font-family="'DejaVu Sans', 'Liberation Sans', sans-serif" font-size="15.5" font-weight="normal" text-anchor="end" fill="#000" textLength="37.5" lengthAdjust="spacingAndGlyphs" stroke="#000" stroke-width="0.7">1000</text>
<line x1="743.5" y1="244.5" x2="748.5" y2="244.5" stroke="#000" stroke-width="1.6" stroke-linecap="butt"/>
<line x1="1280.5" y1="244.5" x2="1275.5" y2="244.5" stroke="#000" stroke-width="1.6" stroke-linecap="butt"/>
<text x="740.0" y="250.1" font-family="'DejaVu Sans', 'Liberation Sans', sans-serif" font-size="15.5" font-weight="normal" text-anchor="end" fill="#000" textLength="37.5" lengthAdjust="spacingAndGlyphs" stroke="#000" stroke-width="0.7">1500</text>
<line x1="743.5" y1="172.1" x2="748.5" y2="172.1" stroke="#000" stroke-width="1.6" stroke-linecap="butt"/>
<line x1="1280.5" y1="172.1" x2="1275.5" y2="172.1" stroke="#000" stroke-width="1.6" stroke-linecap="butt"/>
<text x="740.0" y="177.7" font-family="'DejaVu Sans', 'Liberation Sans', sans-serif" font-size="15.5" font-weight="normal" text-anchor="end" fill="#000" textLength="37.5" lengthAdjust="spacingAndGlyphs" stroke="#000" stroke-width="0.7">2000</text>
<line x1="743.5" y1="99.6" x2="748.5" y2="99.6" stroke="#000" stroke-width="1.6" stroke-linecap="butt"/>
<line x1="1280.5" y1="99.6" x2="1275.5" y2="99.6" stroke="#000" stroke-width="1.6" stroke-linecap="butt"/>
<text x="740.0" y="105.2" font-family="'DejaVu Sans', 'Liberation Sans', sans-serif" font-size="15.5" font-weight="normal" text-anchor="end" fill="#000" textLength="37.5" lengthAdjust="spacingAndGlyphs" stroke="#000" stroke-width="0.7">2500</text>
<line x1="743.5" y1="27.2" x2="748.5" y2="27.2" stroke="#000" stroke-width="1.6" stroke-linecap="butt"/>
<line x1="1280.5" y1="27.2" x2="1275.5" y2="27.2" stroke="#000" stroke-width="1.6" stroke-linecap="butt"/>
<text x="740.0" y="32.8" font-family="'DejaVu Sans', 'Liberation Sans', sans-serif" font-size="15.5" font-weight="normal" text-anchor="end" fill="#000" textLength="37.5" lengthAdjust="spacingAndGlyphs" stroke="#000" stroke-width="0.7">3000</text>
<line x1="743.5" y1="461.8" x2="743.5" y2="456.8" stroke="#000" stroke-width="1.6" stroke-linecap="butt"/>
<line x1="743.5" y1="21.6" x2="743.5" y2="26.6" stroke="#000" stroke-width="1.6" stroke-linecap="butt"/>
<text x="744.5" y="479.1" font-family="'DejaVu Sans', 'Liberation Sans', sans-serif" font-size="15.5" font-weight="normal" text-anchor="middle" fill="#000" textLength="9.5" lengthAdjust="spacingAndGlyphs" stroke="#000" stroke-width="0.7">0</text>
<line x1="815.6" y1="461.8" x2="815.6" y2="456.8" stroke="#000" stroke-width="1.6" stroke-linecap="butt"/>
<line x1="815.6" y1="21.6" x2="815.6" y2="26.6" stroke="#000" stroke-width="1.6" stroke-linecap="butt"/>
<text x="816.6" y="479.1" font-family="'DejaVu Sans', 'Liberation Sans', sans-serif" font-size="15.5" font-weight="normal" text-anchor="middle" fill="#000" textLength="37.5" lengthAdjust="spacingAndGlyphs" stroke="#000" stroke-width="0.7">2000</text>
<line x1="887.7" y1="461.8" x2="887.7" y2="456.8" stroke="#000" stroke-width="1.6" stroke-linecap="butt"/>
<line x1="887.7" y1="21.6" x2="887.7" y2="26.6" stroke="#000" stroke-width="1.6" stroke-linecap="butt"/>
<text x="888.7" y="479.1" font-family="'DejaVu Sans', 'Liberation Sans', sans-serif" font-size="15.5" font-weight="normal" text-anchor="middle" fill="#000" textLength="37.5" lengthAdjust="spacingAndGlyphs" stroke="#000" stroke-width="0.7">4000</text>
<line x1="959.8" y1="461.8" x2="959.8" y2="456.8" stroke="#000" stroke-width="1.6" stroke-linecap="butt"/>
<line x1="959.8" y1="21.6" x2="959.8" y2="26.6" stroke="#000" stroke-width="1.6" stroke-linecap="butt"/>
<text x="960.8" y="479.1" font-family="'DejaVu Sans', 'Liberation Sans', sans-serif" font-size="15.5" font-weight="normal" text-anchor="middle" fill="#000" textLength="37.5" lengthAdjust="spacingAndGlyphs" stroke="#000" stroke-width="0.7">6000</text>
<line x1="1031.9" y1="461.8" x2="1031.9" y2="456.8" stroke="#000" stroke-width="1.6" stroke-linecap="butt"/>
<line x1="1031.9" y1="21.6" x2="1031.9" y2="26.6" stroke="#000" stroke-width="1.6" stroke-linecap="butt"/>
<text x="1032.9" y="479.1" font-family="'DejaVu Sans', 'Liberation Sans', sans-serif" font-size="15.5" font-weight="normal" text-anchor="middle" fill="#000" textLength="37.5" lengthAdjust="spacingAndGlyphs" stroke="#000" stroke-width="0.7">8000</text>
<line x1="1104.0" y1="461.8" x2="1104.0" y2="456.8" stroke="#000" stroke-width="1.6" stroke-linecap="butt"/>
<line x1="1104.0" y1="21.6" x2="1104.0" y2="26.6" stroke="#000" stroke-width="1.6" stroke-linecap="butt"/>
<text x="1105.0" y="479.1" font-family="'DejaVu Sans', 'Liberation Sans', sans-serif" font-size="15.5" font-weight="normal" text-anchor="middle" fill="#000" textLength="46.5" lengthAdjust="spacingAndGlyphs" stroke="#000" stroke-width="0.7">10000</text>
<line x1="1176.1" y1="461.8" x2="1176.1" y2="456.8" stroke="#000" stroke-width="1.6" stroke-linecap="butt"/>
<line x1="1176.1" y1="21.6" x2="1176.1" y2="26.6" stroke="#000" stroke-width="1.6" stroke-linecap="butt"/>
<text x="1177.1" y="479.1" font-family="'DejaVu Sans', 'Liberation Sans', sans-serif" font-size="15.5" font-weight="normal" text-anchor="middle" fill="#000" textLength="46.5" lengthAdjust="spacingAndGlyphs" stroke="#000" stroke-width="0.7">12000</text>
<line x1="1248.2" y1="461.8" x2="1248.2" y2="456.8" stroke="#000" stroke-width="1.6" stroke-linecap="butt"/>
<line x1="1248.2" y1="21.6" x2="1248.2" y2="26.6" stroke="#000" stroke-width="1.6" stroke-linecap="butt"/>
<text x="1249.2" y="479.1" font-family="'DejaVu Sans', 'Liberation Sans', sans-serif" font-size="15.5" font-weight="normal" text-anchor="middle" fill="#000" textLength="46.5" lengthAdjust="spacingAndGlyphs" stroke="#000" stroke-width="0.7">14000</text>
<text x="1012.0" y="15.1" font-family="'DejaVu Sans', 'Liberation Sans', sans-serif" font-size="19" font-weight="normal" text-anchor="middle" fill="#000" textLength="263.0" lengthAdjust="spacingAndGlyphs" stroke="#000" stroke-width="0.7">observed_species: Description</text>
<text x="846.0" y="534.7" font-family="'Liberation Serif', 'Times New Roman', serif" font-size="36" font-weight="bold" text-anchor="start" fill="#000" textLength="343.0" lengthAdjust="spacingAndGlyphs" stroke="#000" stroke-width="0.4">Sequences per sample</text>
<text transform="translate(686.5,207.0) rotate(-90)" x="0" y="0" font-family="'Liberation Serif', 'Times New Roman', serif" font-size="37.5" font-weight="bold" text-anchor="middle" textLength="276.5" lengthAdjust="spacingAndGlyphs">Observed species</text>
<rect x="1362.3" y="9.9" width="12.6" height="12.6" fill="#ff0000"/>
<text x="1390.2" y="19.3" font-family="'Liberation Sans', Arial, sans-serif" font-size="23" font-weight="bold" text-anchor="start" fill="#000" textLength="69.0" lengthAdjust="spacingAndGlyphs" stroke="#000" stroke-width="0.4">FTMR1</text>
<rect x="1362.3" y="50.9" width="12.6" height="12.6" fill="#0000ff"/>
<text x="1390.2" y="60.3" font-family="'Liberation Sans', Arial, sans-serif" font-size="23" font-weight="bold" text-anchor="start" fill="#000" textLength="69.0" lengthAdjust="spacingAndGlyphs" stroke="#000" stroke-width="0.4">FTMR2</text>
<rect x="1362.3" y="91.9" width="12.6" height="12.6" fill="#f27305"/>
<text x="1390.2" y="101.3" font-family="'Liberation Sans', Arial, sans-serif" font-size="23" font-weight="bold" text-anchor="start" fill="#000" textLength="69.0" lengthAdjust="spacingAndGlyphs" stroke="#000" stroke-width="0.4">FTMR3</text>
<rect x="1362.3" y="132.9" width="12.6" height="12.6" fill="#008000"/>
<text x="1390.2" y="142.3" font-family="'Liberation Sans', Arial, sans-serif" font-size="23" font-weight="bold" text-anchor="start" fill="#000" textLength="69.0" lengthAdjust="spacingAndGlyphs" stroke="#000" stroke-width="0.4">FTMR4</text>
<rect x="1362.3" y="173.9" width="12.6" height="12.6" fill="#91278d"/>
<text x="1390.2" y="183.3" font-family="'Liberation Sans', Arial, sans-serif" font-size="23" font-weight="bold" text-anchor="start" fill="#000" textLength="69.0" lengthAdjust="spacingAndGlyphs" stroke="#000" stroke-width="0.4">FTMR5</text>
<rect x="1362.3" y="214.9" width="12.6" height="12.6" fill="#ffff00"/>
<text x="1390.2" y="224.3" font-family="'Liberation Sans', Arial, sans-serif" font-size="23" font-weight="bold" text-anchor="start" fill="#000" textLength="69.0" lengthAdjust="spacingAndGlyphs" stroke="#000" stroke-width="0.4">FTMR6</text>
<rect x="1362.3" y="255.9" width="12.6" height="12.6" fill="#7dedf5"/>
<text x="1396.3" y="265.3" font-family="'Liberation Sans', Arial, sans-serif" font-size="23" font-weight="bold" text-anchor="start" fill="#000" textLength="57.5" lengthAdjust="spacingAndGlyphs" stroke="#000" stroke-width="0.4">TMR1</text>
<rect x="1362.3" y="296.9" width="12.6" height="12.6" fill="#f59ac3"/>
<text x="1396.3" y="306.3" font-family="'Liberation Sans', Arial, sans-serif" font-size="23" font-weight="bold" text-anchor="start" fill="#000" textLength="57.5" lengthAdjust="spacingAndGlyphs" stroke="#000" stroke-width="0.4">TMR2</text>
<rect x="1362.3" y="337.9" width="12.6" height="12.6" fill="#5da19f"/>
<text x="1396.3" y="347.3" font-family="'Liberation Sans', Arial, sans-serif" font-size="23" font-weight="bold" text-anchor="start" fill="#000" textLength="57.5" lengthAdjust="spacingAndGlyphs" stroke="#000" stroke-width="0.4">TMR3</text>
<rect x="1362.3" y="378.9" width="12.6" height="12.6" fill="#6b450c"/>
<text x="1396.3" y="388.3" font-family="'Liberation Sans', Arial, sans-serif" font-size="23" font-weight="bold" text-anchor="start" fill="#000" textLength="57.5" lengthAdjust="spacingAndGlyphs" stroke="#000" stroke-width="0.4">TMR4</text>
<rect x="1362.3" y="419.9" width="12.6" height="12.6" fill="#808080"/>
<text x="1396.3" y="429.3" font-family="'Liberation Sans', Arial, sans-serif" font-size="23" font-weight="bold" text-anchor="start" fill="#000" textLength="57.5" lengthAdjust="spacingAndGlyphs" stroke="#000" stroke-width="0.4">TMR5</text>
<rect x="1362.3" y="460.9" width="12.6" height="12.6" fill="#02f50f"/>
<text x="1396.3" y="470.3" font-family="'Liberation Sans', Arial, sans-serif" font-size="23" font-weight="bold" text-anchor="start" fill="#000" textLength="57.5" lengthAdjust="spacingAndGlyphs" stroke="#000" stroke-width="0.4">TMR6</text>
<text x="632.7" y="613.6" font-family="'Liberation Sans', Arial, sans-serif" font-size="27.5" font-weight="bold" text-anchor="start" fill="#000" textLength="21.4" lengthAdjust="spacingAndGlyphs">D</text>
<g clip-path="url(#clipD)" fill="none" stroke-linejoin="round">
<path d="M728.70,1102.30 L747.24,1010.97 L749.57,1006.10 L751.90,1001.30 L754.23,996.57 L756.57,991.93 L758.90,987.37 L761.23,982.89 L763.56,978.49 L765.89,974.17 L768.22,969.84 L770.56,965.59 L772.89,961.44 L775.22,957.37 L777.55,953.41 L779.88,949.54 L782.21,945.77 L784.55,942.10 L786.88,938.56 L789.21,935.11 L791.54,931.78 L793.87,928.55 L796.20,925.43 L798.54,922.43 L800.87,919.54 L803.20,916.79 L804.90,914.97 L805.53,914.31 L807.86,911.94 L810.20,909.67 L812.53,907.50 L814.86,905.41 L817.19,903.41 L819.52,901.47 L821.85,899.56 L824.19,897.53 L826.52,895.55 L828.85,893.60 L831.18,891.69 L833.51,889.81 L835.84,887.94 L838.18,886.08 L840.51,884.25 L842.84,882.47 L845.17,880.69 L846.04,880.01 L847.50,878.88 L849.83,877.06 L852.17,875.24 L854.50,873.41 L856.83,871.59 L859.16,869.83 L861.49,868.20 L863.82,866.59 L866.16,865.00 L868.49,863.43 L870.82,861.89 L873.15,860.39 L875.48,858.92 L877.81,857.34 L880.15,855.50 L882.48,853.72 L884.81,851.99 L887.14,850.32 L889.47,848.72 L891.80,847.18 L894.14,845.70 L896.47,844.39 L898.80,843.29 L901.13,842.21 L903.46,841.16 L905.79,840.14 L908.13,839.14 L910.46,838.15 L912.79,837.19 L915.12,836.29 L917.45,835.44 L919.78,834.60 L922.12,833.79 L924.45,832.99 L926.78,832.21 L929.11,831.45 L931.44,830.70 L933.77,829.88 L936.11,829.00 L938.44,828.13 L940.77,827.28 L943.10,826.43 L945.43,825.59 L947.76,824.76 L950.10,823.94 L952.43,823.12 L954.76,822.29 L957.09,821.47 L959.42,820.66 L961.75,819.84 L963.38,819.28 L964.09,819.03 L966.42,818.22 L968.75,817.41 L971.08,816.67 L973.41,815.98 L975.74,815.29 L978.08,814.60 L980.41,813.91 L982.74,813.22 L985.07,812.54 L987.40,811.85 L989.73,811.13 L992.07,810.39 L994.40,809.65 L996.73,808.91 L999.06,808.18 L1001.39,807.45 L1003.72,806.72 L1006.06,806.00 L1008.39,805.35 L1010.72,804.74 L1013.05,804.13 L1015.38,803.53 L1017.71,802.94 L1020.05,802.35 L1022.38,801.77 L1024.71,801.20 L1027.04,800.47 L1029.37,799.68 L1031.70,798.89 L1034.04,798.12 L1036.37,797.36 L1038.70,796.61 L1041.03,795.87 L1043.36,795.15 L1045.69,794.57 L1048.03,794.05 L1050.36,793.54 L1052.69,793.04 L1055.02,792.56 L1057.35,792.09 L1059.68,791.64 L1062.02,791.20 L1064.35,790.74 L1066.68,790.29 L1069.01,789.86 L1071.34,789.44 L1073.67,789.04 L1076.01,788.66 L1078.34,788.29 L1080.67,787.94 L1080.72,787.94 L1083.00,787.71 L1085.33,787.50 L1087.66,787.30 L1090.00,787.09 L1092.33,786.89 L1094.66,786.69 L1096.99,786.50 L1099.32,786.31 L1101.65,785.83 L1103.99,785.34 L1106.32,784.85 L1108.65,784.37 L1110.98,783.89 L1113.31,783.41 L1115.64,782.94 L1117.98,782.47 L1120.31,782.28 L1122.64,782.11 L1124.97,781.93 L1127.30,781.77 L1129.63,781.60 L1131.97,781.44 L1134.30,781.29 L1136.63,781.14 L1138.96,780.93 L1141.29,780.73 L1143.63,780.54 L1145.96,780.34 L1148.29,780.16 L1150.62,779.98 L1152.95,779.80 L1155.28,779.62 L1157.62,779.31 L1159.95,779.00 L1162.28,778.69 L1164.61,778.39 L1166.94,778.10 L1169.27,777.81 L1171.61,777.53 L1173.94,777.28 L1176.27,777.23 L1178.60,777.19 L1180.93,777.16 L1183.26,777.14 L1185.60,777.12 L1187.93,777.10 L1190.26,777.10 L1192.59,777.09 L1194.92,777.05 L1197.25,777.02 L1198.06,777.01 L1199.59,777.00 L1201.92,776.98 L1204.25,776.95 L1206.58,776.93 L1208.91,776.91 L1211.24,776.86 L1213.58,776.74 L1215.91,776.61 L1218.24,776.48 L1220.57,776.36 L1222.90,776.23 L1225.23,776.11 L1227.57,775.99 L1229.90,775.90 L1232.23,775.89 L1234.56,775.89 L1236.89,775.89 L1239.22,775.89 L1241.56,775.90 L1243.89,775.90 L1246.22,775.91 L1248.55,775.85 L1250.88,775.67 L1253.21,775.49 L1255.55,775.31 L1257.88,775.14 L1260.21,774.96 L1262.54,774.79 L1264.87,774.62 L1267.20,774.51 L1269.54,774.52 L1271.87,774.53 L1274.20,774.54 L1276.53,774.55 L1278.86,774.57 L1281.19,774.59 L1283.53,774.61 L1285.86,774.61 L1288.19,774.60 L1290.52,774.59 L1292.85,774.58 L1295.18,774.57 L1297.52,774.57 L1299.85,774.57 L1302.18,774.57 L1304.51,774.56" stroke="#02f50f" stroke-width="2.3"/>
<path d="M728.70,1102.30 L747.24,1015.40 L749.57,1011.05 L751.90,1006.76 L754.23,1002.53 L756.57,998.37 L758.90,994.28 L761.23,990.26 L763.56,986.31 L765.89,982.45 L768.22,979.14 L770.56,975.90 L772.89,972.73 L775.22,969.64 L777.55,966.64 L779.88,963.71 L782.21,960.87 L784.55,958.07 L786.88,954.98 L789.21,951.97 L791.54,949.05 L793.87,946.22 L796.20,943.48 L798.54,940.84 L800.87,938.29 L803.20,935.86 L804.90,934.26 L805.53,933.67 L807.86,931.59 L810.20,929.60 L812.53,927.70 L814.86,925.88 L817.19,924.13 L819.52,922.44 L821.85,920.69 L824.19,918.50 L826.52,916.34 L828.85,914.21 L831.18,912.11 L833.51,910.01 L835.84,907.91 L838.18,905.81 L840.51,903.84 L842.84,902.28 L845.17,900.70 L846.04,900.10 L847.50,899.07 L849.83,897.42 L852.17,895.75 L854.50,894.05 L856.83,892.35 L859.16,890.60 L861.49,888.77 L863.82,886.95 L866.16,885.13 L868.49,883.33 L870.82,881.56 L873.15,879.81 L875.48,878.09 L877.81,876.47 L880.15,875.02 L882.48,873.62 L884.81,872.28 L887.14,870.99 L889.47,869.77 L891.80,868.62 L894.14,867.54 L896.47,866.43 L898.80,865.24 L901.13,864.07 L903.46,862.92 L905.79,861.80 L908.13,860.69 L910.46,859.61 L912.79,858.54 L915.12,857.59 L917.45,856.77 L919.78,855.98 L922.12,855.20 L924.45,854.44 L926.78,853.69 L929.11,852.97 L931.44,852.26 L933.77,851.33 L936.11,850.18 L938.44,849.04 L940.77,847.91 L943.10,846.80 L945.43,845.71 L947.76,844.63 L950.10,843.56 L952.43,842.80 L954.76,842.29 L957.09,841.80 L959.42,841.32 L961.75,840.85 L963.38,840.53 L964.09,840.40 L966.42,839.95 L968.75,839.50 L971.08,838.88 L973.41,838.13 L975.74,837.39 L978.08,836.65 L980.41,835.92 L982.74,835.19 L985.07,834.47 L987.40,833.75 L989.73,833.05 L992.07,832.35 L994.40,831.67 L996.73,830.99 L999.06,830.31 L1001.39,829.64 L1003.72,828.98 L1006.06,828.32 L1008.39,827.71 L1010.72,827.12 L1013.05,826.54 L1015.38,825.96 L1017.71,825.39 L1020.05,824.83 L1022.38,824.28 L1024.71,823.73 L1027.04,823.09 L1029.37,822.41 L1031.70,821.73 L1034.04,821.07 L1036.37,820.41 L1038.70,819.77 L1041.03,819.13 L1043.36,818.50 L1045.69,818.04 L1048.03,817.63 L1050.36,817.23 L1052.69,816.84 L1055.02,816.46 L1057.35,816.09 L1059.68,815.73 L1062.02,815.39 L1064.35,814.97 L1066.68,814.56 L1069.01,814.15 L1071.34,813.76 L1073.67,813.38 L1076.01,813.01 L1078.34,812.65 L1080.67,812.31 L1080.72,812.30 L1083.00,811.99 L1085.33,811.68 L1087.66,811.36 L1090.00,811.06 L1092.33,810.75 L1094.66,810.45 L1096.99,810.15 L1099.32,809.85 L1101.65,809.47 L1103.99,809.08 L1106.32,808.69 L1108.65,808.30 L1110.98,807.92 L1113.31,807.55 L1115.64,807.17 L1117.98,806.80 L1120.31,806.64 L1122.64,806.49 L1124.97,806.34 L1127.30,806.19 L1129.63,806.05 L1131.97,805.91 L1134.30,805.77 L1136.63,805.64 L1138.96,805.38 L1141.29,805.12 L1143.63,804.86 L1145.96,804.61 L1148.29,804.36 L1150.62,804.12 L1152.95,803.88 L1155.28,803.64 L1157.62,803.41 L1159.95,803.18 L1162.28,802.95 L1164.61,802.73 L1166.94,802.52 L1169.27,802.31 L1171.61,802.10 L1173.94,801.92 L1176.27,801.86 L1178.60,801.80 L1180.93,801.74 L1183.26,801.69 L1185.60,801.65 L1187.93,801.61 L1190.26,801.57 L1192.59,801.52 L1194.92,801.34 L1197.25,801.17 L1198.06,801.12 L1199.59,801.01 L1201.92,800.84 L1204.25,800.68 L1206.58,800.51 L1208.91,800.35 L1211.24,800.19 L1213.58,800.03 L1215.91,799.89 L1218.24,799.74 L1220.57,799.59 L1222.90,799.44 L1225.23,799.30 L1227.57,799.15 L1229.90,799.01 L1232.23,798.89 L1234.56,798.77 L1236.89,798.66 L1239.22,798.54 L1241.56,798.43 L1243.89,798.32 L1246.22,798.21 L1248.55,798.12 L1250.88,798.07 L1253.21,798.03 L1255.55,797.99 L1257.88,797.95 L1260.21,797.92 L1262.54,797.88 L1264.87,797.86 L1267.20,797.83 L1269.54,797.79 L1271.87,797.76 L1274.20,797.73 L1276.53,797.71 L1278.86,797.68 L1281.19,797.67 L1283.53,797.65 L1285.86,797.61 L1288.19,797.51 L1290.52,797.42 L1292.85,797.34 L1295.18,797.25 L1297.52,797.18 L1299.85,797.10 L1302.18,797.03 L1304.51,797.02" stroke="#808080" stroke-width="2.3"/>
<path d="M728.70,1102.30 L747.24,1013.74 L749.57,1008.99 L751.90,1004.31 L754.23,999.71 L756.57,995.19 L758.90,990.75 L761.23,986.40 L763.56,982.13 L765.89,977.96 L768.22,973.93 L770.56,970.00 L772.89,966.16 L775.22,962.42 L777.55,958.78 L779.88,955.24 L782.21,951.80 L784.55,948.45 L786.88,945.01 L789.21,941.68 L791.54,938.46 L793.87,935.35 L796.20,932.37 L798.54,929.50 L800.87,926.76 L803.20,924.17 L804.90,922.46 L805.53,921.84 L807.86,919.64 L810.20,917.56 L812.53,915.57 L814.86,913.68 L817.19,911.87 L819.52,910.14 L821.85,908.46 L824.19,906.80 L826.52,905.19 L828.85,903.60 L831.18,902.04 L833.51,900.48 L835.84,898.93 L838.18,897.36 L840.51,895.79 L842.84,894.27 L845.17,892.70 L846.04,892.10 L847.50,891.08 L849.83,889.43 L852.17,887.76 L854.50,886.07 L856.83,884.36 L859.16,882.59 L861.49,880.66 L863.82,878.73 L866.16,876.82 L868.49,874.92 L870.82,873.03 L873.15,871.17 L875.48,869.35 L877.81,867.58 L880.15,865.92 L882.48,864.29 L884.81,862.72 L887.14,861.21 L889.47,859.77 L891.80,858.39 L894.14,857.07 L896.47,855.82 L898.80,854.62 L901.13,853.44 L903.46,852.29 L905.79,851.16 L908.13,850.04 L910.46,848.95 L912.79,847.87 L915.12,846.75 L917.45,845.56 L919.78,844.38 L922.12,843.23 L924.45,842.09 L926.78,840.96 L929.11,839.86 L931.44,838.77 L933.77,837.70 L936.11,836.66 L938.44,835.64 L940.77,834.63 L943.10,833.64 L945.43,832.66 L947.76,831.69 L950.10,830.73 L952.43,829.91 L954.76,829.20 L957.09,828.50 L959.42,827.81 L961.75,827.13 L963.38,826.66 L964.09,826.46 L966.42,825.80 L968.75,825.14 L971.08,824.39 L973.41,823.57 L975.74,822.76 L978.08,821.96 L980.41,821.16 L982.74,820.36 L985.07,819.57 L987.40,818.78 L989.73,817.96 L992.07,817.14 L994.40,816.31 L996.73,815.49 L999.06,814.68 L1001.39,813.87 L1003.72,813.07 L1006.06,812.28 L1008.39,811.63 L1010.72,811.04 L1013.05,810.46 L1015.38,809.89 L1017.71,809.33 L1020.05,808.77 L1022.38,808.22 L1024.71,807.68 L1027.04,807.01 L1029.37,806.29 L1031.70,805.59 L1034.04,804.89 L1036.37,804.20 L1038.70,803.52 L1041.03,802.85 L1043.36,802.18 L1045.69,801.73 L1048.03,801.34 L1050.36,800.96 L1052.69,800.58 L1055.02,800.22 L1057.35,799.87 L1059.68,799.53 L1062.02,799.20 L1064.35,798.69 L1066.68,798.16 L1069.01,797.64 L1071.34,797.12 L1073.67,796.62 L1076.01,796.14 L1078.34,795.66 L1080.67,795.19 L1080.72,795.18 L1083.00,794.70 L1085.33,794.21 L1087.66,793.72 L1090.00,793.23 L1092.33,792.74 L1094.66,792.26 L1096.99,791.78 L1099.32,791.30 L1101.65,790.94 L1103.99,790.60 L1106.32,790.26 L1108.65,789.93 L1110.98,789.60 L1113.31,789.27 L1115.64,788.94 L1117.98,788.62 L1120.31,788.31 L1122.64,787.99 L1124.97,787.68 L1127.30,787.38 L1129.63,787.08 L1131.97,786.78 L1134.30,786.49 L1136.63,786.20 L1138.96,785.84 L1141.29,785.48 L1143.63,785.13 L1145.96,784.78 L1148.29,784.44 L1150.62,784.10 L1152.95,783.77 L1155.28,783.46 L1157.62,783.22 L1159.95,782.99 L1162.28,782.76 L1164.61,782.54 L1166.94,782.33 L1169.27,782.13 L1171.61,781.94 L1173.94,781.75 L1176.27,781.53 L1178.60,781.33 L1180.93,781.13 L1183.26,780.94 L1185.60,780.76 L1187.93,780.59 L1190.26,780.43 L1192.59,780.29 L1194.92,780.19 L1197.25,780.10 L1198.06,780.07 L1199.59,780.02 L1201.92,779.94 L1204.25,779.86 L1206.58,779.78 L1208.91,779.70 L1211.24,779.61 L1213.58,779.47 L1215.91,779.33 L1218.24,779.20 L1220.57,779.06 L1222.90,778.93 L1225.23,778.79 L1227.57,778.66 L1229.90,778.54 L1232.23,778.43 L1234.56,778.32 L1236.89,778.22 L1239.22,778.12 L1241.56,778.02 L1243.89,777.92 L1246.22,777.83 L1248.55,777.74 L1250.88,777.69 L1253.21,777.63 L1255.55,777.58 L1257.88,777.53 L1260.21,777.49 L1262.54,777.45 L1264.87,777.41 L1267.20,777.38 L1269.54,777.36 L1271.87,777.35 L1274.20,777.34 L1276.53,777.34 L1278.86,777.34 L1281.19,777.34 L1283.53,777.35 L1285.86,777.32 L1288.19,777.22 L1290.52,777.13 L1292.85,777.04 L1295.18,776.96 L1297.52,776.88 L1299.85,776.80 L1302.18,776.73 L1304.51,776.69" stroke="#5da19f" stroke-width="2.3"/>
<path d="M728.70,1102.30 L747.24,1012.08 L749.57,1007.05 L751.90,1002.10 L754.23,997.23 L756.57,992.44 L758.90,987.73 L761.23,983.11 L763.56,978.58 L765.89,974.16 L768.22,970.16 L770.56,966.25 L772.89,962.45 L775.22,958.74 L777.55,955.14 L779.88,951.63 L782.21,948.24 L784.55,944.91 L786.88,941.29 L789.21,937.78 L791.54,934.39 L793.87,931.11 L796.20,927.96 L798.54,924.93 L800.87,922.02 L803.20,919.25 L804.90,917.38 L805.53,916.70 L807.86,914.28 L810.20,911.97 L812.53,909.76 L814.86,907.65 L817.19,905.62 L819.52,903.67 L821.85,901.82 L824.19,900.19 L826.52,898.61 L828.85,897.07 L831.18,895.55 L833.51,894.04 L835.84,892.54 L838.18,891.03 L840.51,889.44 L842.84,887.64 L845.17,885.81 L846.04,885.11 L847.50,883.93 L849.83,882.03 L852.17,880.12 L854.50,878.19 L856.83,876.25 L859.16,874.34 L861.49,872.53 L863.82,870.72 L866.16,868.92 L868.49,867.14 L870.82,865.38 L873.15,863.65 L875.48,861.95 L877.81,860.29 L880.15,858.67 L882.48,857.09 L884.81,855.56 L887.14,854.09 L889.47,852.69 L891.80,851.35 L894.14,850.07 L896.47,848.83 L898.80,847.62 L901.13,846.43 L903.46,845.27 L905.79,844.12 L908.13,843.00 L910.46,841.90 L912.79,840.81 L915.12,839.72 L917.45,838.60 L919.78,837.50 L922.12,836.42 L924.45,835.36 L926.78,834.31 L929.11,833.28 L931.44,832.27 L933.77,831.26 L936.11,830.26 L938.44,829.27 L940.77,828.30 L943.10,827.34 L945.43,826.39 L947.76,825.45 L950.10,824.52 L952.43,823.74 L954.76,823.08 L957.09,822.43 L959.42,821.78 L961.75,821.15 L963.38,820.71 L964.09,820.52 L966.42,819.89 L968.75,819.26 L971.08,818.43 L973.41,817.46 L975.74,816.48 L978.08,815.51 L980.41,814.54 L982.74,813.58 L985.07,812.61 L987.40,811.65 L989.73,810.84 L992.07,810.12 L994.40,809.41 L996.73,808.70 L999.06,807.99 L1001.39,807.29 L1003.72,806.60 L1006.06,805.91 L1008.39,805.17 L1010.72,804.41 L1013.05,803.66 L1015.38,802.92 L1017.71,802.18 L1020.05,801.45 L1022.38,800.73 L1024.71,800.02 L1027.04,799.41 L1029.37,798.85 L1031.70,798.29 L1034.04,797.75 L1036.37,797.21 L1038.70,796.69 L1041.03,796.17 L1043.36,795.67 L1045.69,795.01 L1048.03,794.32 L1050.36,793.65 L1052.69,792.98 L1055.02,792.33 L1057.35,791.69 L1059.68,791.06 L1062.02,790.44 L1064.35,789.84 L1066.68,789.26 L1069.01,788.69 L1071.34,788.13 L1073.67,787.59 L1076.01,787.06 L1078.34,786.55 L1080.67,786.05 L1080.72,786.04 L1083.00,785.78 L1085.33,785.55 L1087.66,785.31 L1090.00,785.07 L1092.33,784.84 L1094.66,784.61 L1096.99,784.37 L1099.32,784.14 L1101.65,783.81 L1103.99,783.46 L1106.32,783.13 L1108.65,782.79 L1110.98,782.46 L1113.31,782.13 L1115.64,781.80 L1117.98,781.48 L1120.31,781.09 L1122.64,780.71 L1124.97,780.33 L1127.30,779.96 L1129.63,779.59 L1131.97,779.23 L1134.30,778.87 L1136.63,778.52 L1138.96,778.09 L1141.29,777.66 L1143.63,777.24 L1145.96,776.83 L1148.29,776.42 L1150.62,776.03 L1152.95,775.64 L1155.28,775.26 L1157.62,774.90 L1159.95,774.54 L1162.28,774.20 L1164.61,773.86 L1166.94,773.54 L1169.27,773.23 L1171.61,772.93 L1173.94,772.66 L1176.27,772.55 L1178.60,772.45 L1180.93,772.37 L1183.26,772.30 L1185.60,772.24 L1187.93,772.20 L1190.26,772.17 L1192.59,772.13 L1194.92,772.04 L1197.25,771.97 L1198.06,771.94 L1199.59,771.90 L1201.92,771.84 L1204.25,771.77 L1206.58,771.71 L1208.91,771.65 L1211.24,771.61 L1213.58,771.64 L1215.91,771.67 L1218.24,771.70 L1220.57,771.73 L1222.90,771.76 L1225.23,771.80 L1227.57,771.83 L1229.90,771.84 L1232.23,771.75 L1234.56,771.67 L1236.89,771.59 L1239.22,771.51 L1241.56,771.44 L1243.89,771.36 L1246.22,771.28 L1248.55,771.24 L1250.88,771.28 L1253.21,771.31 L1255.55,771.35 L1257.88,771.39 L1260.21,771.43 L1262.54,771.47 L1264.87,771.51 L1267.20,771.52 L1269.54,771.48 L1271.87,771.43 L1274.20,771.39 L1276.53,771.34 L1278.86,771.30 L1281.19,771.26 L1283.53,771.22 L1285.86,771.20 L1288.19,771.22 L1290.52,771.24 L1292.85,771.26 L1295.18,771.28 L1297.52,771.30 L1299.85,771.33 L1302.18,771.35 L1304.51,771.36" stroke="#6b450c" stroke-width="2.3"/>
<path d="M728.70,1102.30 L747.24,1004.88 L749.57,999.86 L751.90,994.90 L754.23,990.03 L756.57,985.24 L758.90,980.53 L761.23,975.90 L763.56,971.36 L765.89,966.91 L768.22,962.53 L770.56,958.25 L772.89,954.06 L775.22,949.97 L777.55,945.97 L779.88,942.08 L782.21,938.28 L784.55,934.61 L786.88,931.24 L789.21,927.98 L791.54,924.83 L793.87,921.79 L796.20,918.86 L798.54,916.04 L800.87,913.34 L803.20,910.68 L804.90,908.48 L805.53,907.68 L807.86,904.80 L810.20,902.03 L812.53,899.37 L814.86,896.81 L817.19,894.33 L819.52,891.92 L821.85,889.64 L824.19,887.69 L826.52,885.78 L828.85,883.91 L831.18,882.06 L833.51,880.22 L835.84,878.39 L838.18,876.55 L840.51,874.70 L842.84,872.81 L845.17,870.89 L846.04,870.16 L847.50,868.92 L849.83,866.93 L852.17,864.91 L854.50,862.89 L856.83,860.85 L859.16,858.78 L861.49,856.63 L863.82,854.49 L866.16,852.37 L868.49,850.26 L870.82,848.18 L873.15,846.13 L875.48,844.11 L877.81,842.16 L880.15,840.31 L882.48,838.51 L884.81,836.77 L887.14,835.09 L889.47,833.48 L891.80,831.95 L894.14,830.49 L896.47,829.12 L898.80,827.86 L901.13,826.62 L903.46,825.40 L905.79,824.21 L908.13,823.03 L910.46,821.88 L912.79,820.75 L915.12,819.57 L917.45,818.32 L919.78,817.09 L922.12,815.88 L924.45,814.69 L926.78,813.53 L929.11,812.38 L931.44,811.25 L933.77,810.13 L936.11,809.02 L938.44,807.93 L940.77,806.86 L943.10,805.81 L945.43,804.78 L947.76,803.77 L950.10,802.77 L952.43,801.76 L954.76,800.74 L957.09,799.74 L959.42,798.76 L961.75,797.79 L963.38,797.13 L964.09,796.84 L966.42,795.91 L968.75,794.97 L971.08,794.12 L973.41,793.31 L975.74,792.51 L978.08,791.72 L980.41,790.94 L982.74,790.17 L985.07,789.40 L987.40,788.64 L989.73,787.97 L992.07,787.36 L994.40,786.76 L996.73,786.17 L999.06,785.58 L1001.39,785.00 L1003.72,784.43 L1006.06,783.87 L1008.39,783.20 L1010.72,782.48 L1013.05,781.78 L1015.38,781.08 L1017.71,780.39 L1020.05,779.71 L1022.38,779.03 L1024.71,778.37 L1027.04,777.62 L1029.37,776.86 L1031.70,776.09 L1034.04,775.34 L1036.37,774.60 L1038.70,773.86 L1041.03,773.14 L1043.36,772.42 L1045.69,771.77 L1048.03,771.15 L1050.36,770.54 L1052.69,769.93 L1055.02,769.34 L1057.35,768.75 L1059.68,768.18 L1062.02,767.61 L1064.35,767.19 L1066.68,766.80 L1069.01,766.42 L1071.34,766.06 L1073.67,765.70 L1076.01,765.35 L1078.34,765.01 L1080.67,764.68 L1080.72,764.67 L1083.00,764.29 L1085.33,763.90 L1087.66,763.51 L1090.00,763.12 L1092.33,762.74 L1094.66,762.35 L1096.99,761.98 L1099.32,761.60 L1101.65,761.09 L1103.99,760.58 L1106.32,760.06 L1108.65,759.55 L1110.98,759.05 L1113.31,758.54 L1115.64,758.05 L1117.98,757.55 L1120.31,757.25 L1122.64,756.95 L1124.97,756.66 L1127.30,756.38 L1129.63,756.10 L1131.97,755.82 L1134.30,755.55 L1136.63,755.28 L1138.96,754.88 L1141.29,754.48 L1143.63,754.09 L1145.96,753.71 L1148.29,753.33 L1150.62,752.95 L1152.95,752.59 L1155.28,752.22 L1157.62,751.89 L1159.95,751.55 L1162.28,751.22 L1164.61,750.90 L1166.94,750.59 L1169.27,750.28 L1171.61,749.98 L1173.94,749.69 L1176.27,749.49 L1178.60,749.30 L1180.93,749.11 L1183.26,748.93 L1185.60,748.75 L1187.93,748.58 L1190.26,748.43 L1192.59,748.27 L1194.92,748.10 L1197.25,747.94 L1198.06,747.89 L1199.59,747.79 L1201.92,747.64 L1204.25,747.49 L1206.58,747.34 L1208.91,747.19 L1211.24,747.03 L1213.58,746.83 L1215.91,746.63 L1218.24,746.44 L1220.57,746.24 L1222.90,746.05 L1225.23,745.86 L1227.57,745.67 L1229.90,745.50 L1232.23,745.39 L1234.56,745.29 L1236.89,745.19 L1239.22,745.09 L1241.56,745.00 L1243.89,744.91 L1246.22,744.82 L1248.55,744.71 L1250.88,744.56 L1253.21,744.40 L1255.55,744.26 L1257.88,744.11 L1260.21,743.97 L1262.54,743.83 L1264.87,743.70 L1267.20,743.58 L1269.54,743.49 L1271.87,743.40 L1274.20,743.31 L1276.53,743.23 L1278.86,743.15 L1281.19,743.08 L1283.53,743.02 L1285.86,742.94 L1288.19,742.86 L1290.52,742.79 L1292.85,742.72 L1295.18,742.65 L1297.52,742.60 L1299.85,742.54 L1302.18,742.50 L1304.51,742.46" stroke="#f59ac3" stroke-width="2.3"/>
<path d="M728.70,1102.30 L747.24,1002.67 L749.57,997.65 L751.90,992.71 L754.23,987.85 L756.57,983.07 L758.90,978.37 L761.23,973.75 L763.56,969.21 L765.89,964.75 L768.22,960.19 L770.56,955.73 L772.89,951.35 L775.22,947.07 L777.55,942.88 L779.88,938.79 L782.21,934.79 L784.55,930.92 L786.88,927.46 L789.21,924.09 L791.54,920.82 L793.87,917.67 L796.20,914.61 L798.54,911.67 L800.87,908.84 L803.20,906.05 L804.90,903.77 L805.53,902.94 L807.86,899.95 L810.20,897.07 L812.53,894.29 L814.86,891.60 L817.19,888.99 L819.52,886.46 L821.85,884.09 L824.19,882.19 L826.52,880.35 L828.85,878.55 L831.18,876.77 L833.51,875.03 L835.84,873.29 L838.18,871.57 L840.51,869.74 L842.84,867.59 L845.17,865.43 L846.04,864.61 L847.50,863.24 L849.83,861.03 L852.17,858.82 L854.50,856.60 L856.83,854.38 L859.16,852.22 L861.49,850.20 L863.82,848.19 L866.16,846.20 L868.49,844.23 L870.82,842.29 L873.15,840.39 L875.48,838.52 L877.81,836.72 L880.15,835.00 L882.48,833.33 L884.81,831.73 L887.14,830.18 L889.47,828.70 L891.80,827.30 L894.14,825.96 L896.47,824.50 L898.80,822.80 L901.13,821.13 L903.46,819.49 L905.79,817.87 L908.13,816.27 L910.46,814.69 L912.79,813.14 L915.12,811.90 L917.45,811.06 L919.78,810.24 L922.12,809.45 L924.45,808.67 L926.78,807.91 L929.11,807.17 L931.44,806.45 L933.77,805.54 L936.11,804.43 L938.44,803.34 L940.77,802.27 L943.10,801.21 L945.43,800.17 L947.76,799.14 L950.10,798.13 L952.43,797.15 L954.76,796.21 L957.09,795.29 L959.42,794.37 L961.75,793.47 L963.38,792.85 L964.09,792.58 L966.42,791.70 L968.75,790.82 L971.08,790.09 L973.41,789.46 L975.74,788.84 L978.08,788.23 L980.41,787.62 L982.74,787.02 L985.07,786.42 L987.40,785.83 L989.73,785.00 L992.07,784.02 L994.40,783.05 L996.73,782.09 L999.06,781.14 L1001.39,780.19 L1003.72,779.25 L1006.06,778.32 L1008.39,777.61 L1010.72,777.01 L1013.05,776.42 L1015.38,775.83 L1017.71,775.25 L1020.05,774.68 L1022.38,774.12 L1024.71,773.57 L1027.04,772.88 L1029.37,772.14 L1031.70,771.42 L1034.04,770.70 L1036.37,769.99 L1038.70,769.30 L1041.03,768.60 L1043.36,767.92 L1045.69,767.42 L1048.03,766.98 L1050.36,766.54 L1052.69,766.12 L1055.02,765.70 L1057.35,765.30 L1059.68,764.90 L1062.02,764.52 L1064.35,764.03 L1066.68,763.54 L1069.01,763.05 L1071.34,762.58 L1073.67,762.11 L1076.01,761.66 L1078.34,761.22 L1080.67,760.78 L1080.72,760.78 L1083.00,760.23 L1085.33,759.66 L1087.66,759.09 L1090.00,758.53 L1092.33,757.96 L1094.66,757.40 L1096.99,756.85 L1099.32,756.29 L1101.65,755.92 L1103.99,755.56 L1106.32,755.20 L1108.65,754.85 L1110.98,754.50 L1113.31,754.16 L1115.64,753.82 L1117.98,753.49 L1120.31,753.13 L1122.64,752.78 L1124.97,752.44 L1127.30,752.09 L1129.63,751.76 L1131.97,751.43 L1134.30,751.10 L1136.63,750.78 L1138.96,750.41 L1141.29,750.06 L1143.63,749.70 L1145.96,749.36 L1148.29,749.02 L1150.62,748.68 L1152.95,748.35 L1155.28,748.03 L1157.62,747.75 L1159.95,747.48 L1162.28,747.21 L1164.61,746.95 L1166.94,746.70 L1169.27,746.45 L1171.61,746.21 L1173.94,745.99 L1176.27,745.84 L1178.60,745.69 L1180.93,745.56 L1183.26,745.43 L1185.60,745.31 L1187.93,745.20 L1190.26,745.10 L1192.59,745.00 L1194.92,744.88 L1197.25,744.76 L1198.06,744.72 L1199.59,744.66 L1201.92,744.55 L1204.25,744.44 L1206.58,744.34 L1208.91,744.23 L1211.24,744.12 L1213.58,743.94 L1215.91,743.77 L1218.24,743.60 L1220.57,743.43 L1222.90,743.26 L1225.23,743.09 L1227.57,742.92 L1229.90,742.77 L1232.23,742.63 L1234.56,742.50 L1236.89,742.37 L1239.22,742.24 L1241.56,742.12 L1243.89,742.00 L1246.22,741.88 L1248.55,741.76 L1250.88,741.66 L1253.21,741.56 L1255.55,741.46 L1257.88,741.37 L1260.21,741.28 L1262.54,741.20 L1264.87,741.11 L1267.20,741.01 L1269.54,740.87 L1271.87,740.74 L1274.20,740.61 L1276.53,740.49 L1278.86,740.36 L1281.19,740.25 L1283.53,740.14 L1285.86,740.05 L1288.19,740.00 L1290.52,739.96 L1292.85,739.92 L1295.18,739.89 L1297.52,739.86 L1299.85,739.84 L1302.18,739.83 L1304.51,739.81" stroke="#7dedf5" stroke-width="2.3"/>
<path d="M728.70,1102.30 L747.24,1007.10 L749.57,1001.82 L751.90,996.62 L754.23,991.51 L756.57,986.49 L758.90,981.55 L761.23,976.70 L763.56,971.95 L765.89,967.30 L768.22,962.92 L770.56,958.65 L772.89,954.48 L775.22,950.41 L777.55,946.45 L779.88,942.61 L782.21,938.87 L784.55,935.24 L786.88,931.58 L789.21,928.05 L791.54,924.64 L793.87,921.35 L796.20,918.19 L798.54,915.16 L800.87,912.26 L803.20,909.49 L804.90,907.53 L805.53,906.82 L807.86,904.29 L810.20,901.88 L812.53,899.59 L814.86,897.39 L817.19,895.29 L819.52,893.26 L821.85,891.34 L824.19,889.63 L826.52,887.95 L828.85,886.31 L831.18,884.69 L833.51,883.07 L835.84,881.45 L838.18,879.82 L840.51,878.12 L842.84,876.25 L845.17,874.32 L846.04,873.59 L847.50,872.34 L849.83,870.33 L852.17,868.29 L854.50,866.23 L856.83,864.15 L859.16,862.10 L861.49,860.14 L863.82,858.18 L866.16,856.23 L868.49,854.30 L870.82,852.38 L873.15,850.49 L875.48,848.63 L877.81,846.77 L880.15,844.88 L882.48,843.04 L884.81,841.25 L887.14,839.53 L889.47,837.87 L891.80,836.28 L894.14,834.77 L896.47,833.40 L898.80,832.23 L901.13,831.08 L903.46,829.96 L905.79,828.85 L908.13,827.76 L910.46,826.70 L912.79,825.65 L915.12,824.51 L917.45,823.23 L919.78,821.98 L922.12,820.74 L924.45,819.53 L926.78,818.33 L929.11,817.15 L931.44,816.00 L933.77,814.89 L936.11,813.83 L938.44,812.79 L940.77,811.78 L943.10,810.78 L945.43,809.79 L947.76,808.83 L950.10,807.88 L952.43,806.85 L954.76,805.74 L957.09,804.65 L959.42,803.58 L961.75,802.53 L963.38,801.80 L964.09,801.49 L966.42,800.46 L968.75,799.43 L971.08,798.55 L973.41,797.76 L975.74,796.98 L978.08,796.21 L980.41,795.44 L982.74,794.68 L985.07,793.92 L987.40,793.18 L989.73,792.34 L992.07,791.44 L994.40,790.56 L996.73,789.68 L999.06,788.81 L1001.39,787.95 L1003.72,787.09 L1006.06,786.24 L1008.39,785.50 L1010.72,784.81 L1013.05,784.12 L1015.38,783.44 L1017.71,782.78 L1020.05,782.12 L1022.38,781.47 L1024.71,780.82 L1027.04,780.17 L1029.37,779.51 L1031.70,778.86 L1034.04,778.22 L1036.37,777.60 L1038.70,776.98 L1041.03,776.37 L1043.36,775.77 L1045.69,775.06 L1048.03,774.32 L1050.36,773.60 L1052.69,772.89 L1055.02,772.18 L1057.35,771.49 L1059.68,770.81 L1062.02,770.14 L1064.35,769.68 L1066.68,769.28 L1069.01,768.89 L1071.34,768.51 L1073.67,768.14 L1076.01,767.79 L1078.34,767.44 L1080.67,767.11 L1080.72,767.10 L1083.00,766.73 L1085.33,766.34 L1087.66,765.95 L1090.00,765.57 L1092.33,765.19 L1094.66,764.81 L1096.99,764.44 L1099.32,764.07 L1101.65,763.72 L1103.99,763.37 L1106.32,763.03 L1108.65,762.69 L1110.98,762.35 L1113.31,762.02 L1115.64,761.70 L1117.98,761.37 L1120.31,760.88 L1122.64,760.38 L1124.97,759.89 L1127.30,759.41 L1129.63,758.92 L1131.97,758.45 L1134.30,757.98 L1136.63,757.52 L1138.96,757.20 L1141.29,756.88 L1143.63,756.58 L1145.96,756.28 L1148.29,755.98 L1150.62,755.69 L1152.95,755.41 L1155.28,755.14 L1157.62,754.96 L1159.95,754.78 L1162.28,754.61 L1164.61,754.45 L1166.94,754.29 L1169.27,754.14 L1171.61,754.00 L1173.94,753.85 L1176.27,753.57 L1178.60,753.29 L1180.93,753.03 L1183.26,752.77 L1185.60,752.52 L1187.93,752.28 L1190.26,752.04 L1192.59,751.82 L1194.92,751.63 L1197.25,751.45 L1198.06,751.39 L1199.59,751.28 L1201.92,751.11 L1204.25,750.93 L1206.58,750.76 L1208.91,750.59 L1211.24,750.44 L1213.58,750.36 L1215.91,750.29 L1218.24,750.22 L1220.57,750.14 L1222.90,750.07 L1225.23,750.00 L1227.57,749.94 L1229.90,749.83 L1232.23,749.64 L1234.56,749.44 L1236.89,749.25 L1239.22,749.06 L1241.56,748.87 L1243.89,748.69 L1246.22,748.51 L1248.55,748.33 L1250.88,748.15 L1253.21,747.98 L1255.55,747.80 L1257.88,747.64 L1260.21,747.47 L1262.54,747.31 L1264.87,747.16 L1267.20,747.06 L1269.54,747.08 L1271.87,747.09 L1274.20,747.11 L1276.53,747.13 L1278.86,747.16 L1281.19,747.20 L1283.53,747.24 L1285.86,747.22 L1288.19,747.10 L1290.52,747.00 L1292.85,746.89 L1295.18,746.80 L1297.52,746.71 L1299.85,746.63 L1302.18,746.55 L1304.51,746.52" stroke="#ff0000" stroke-width="2.3"/>
<path d="M728.70,1102.30 L747.24,999.90 L749.49,994.96 L751.74,990.09 L753.99,985.28 L756.23,980.55 L758.48,975.88 L760.73,971.28 L762.98,966.75 L765.23,962.30 L767.48,957.91 L769.73,953.61 L771.98,949.37 L774.23,945.22 L776.47,941.14 L778.72,937.14 L780.97,933.22 L783.22,929.38 L785.47,925.64 L787.72,922.00 L789.97,918.45 L792.22,914.98 L794.46,911.59 L796.71,908.30 L798.96,905.09 L801.21,901.97 L803.46,898.98 L804.90,897.20 L805.71,896.22 L807.96,893.54 L810.21,890.94 L812.46,888.42 L814.70,885.98 L816.95,883.60 L819.20,881.29 L821.45,879.04 L823.70,876.42 L825.95,873.85 L828.20,871.33 L830.45,868.85 L832.69,866.41 L834.94,864.01 L837.19,861.63 L839.44,859.28 L841.69,857.26 L843.94,855.33 L846.04,853.54 L846.19,853.42 L848.44,851.51 L850.68,849.61 L852.93,847.71 L855.18,845.83 L857.43,843.96 L859.68,841.93 L861.93,839.77 L864.18,837.64 L866.43,835.53 L868.68,833.45 L870.92,831.41 L873.17,829.41 L875.42,827.45 L877.67,825.60 L879.92,823.98 L882.17,822.40 L884.42,820.88 L886.67,819.42 L888.91,818.02 L891.16,816.68 L893.41,815.42 L895.66,814.18 L897.91,812.77 L900.16,811.38 L902.41,810.01 L904.66,808.67 L906.90,807.35 L909.15,806.05 L911.40,804.78 L913.65,803.53 L915.90,802.51 L918.15,801.55 L920.40,800.62 L922.65,799.71 L924.90,798.82 L927.14,797.94 L929.39,797.08 L931.64,796.24 L933.89,795.34 L936.14,794.40 L938.39,793.47 L940.64,792.56 L942.89,791.66 L945.13,790.77 L947.38,789.89 L949.63,789.03 L951.88,788.20 L954.13,787.46 L956.38,786.73 L958.63,786.00 L960.88,785.29 L963.12,784.58 L963.38,784.49 L965.37,783.87 L967.62,783.17 L969.87,782.46 L972.12,781.56 L974.37,780.66 L976.62,779.76 L978.87,778.87 L981.12,777.99 L983.36,777.11 L985.61,776.23 L987.86,775.37 L990.11,774.67 L992.36,774.01 L994.61,773.35 L996.86,772.70 L999.11,772.06 L1001.35,771.43 L1003.60,770.80 L1005.85,770.17 L1008.10,769.48 L1010.35,768.75 L1012.60,768.03 L1014.85,767.31 L1017.10,766.60 L1019.34,765.89 L1021.59,765.19 L1023.84,764.50 L1026.09,763.83 L1028.34,763.19 L1030.59,762.56 L1032.84,761.94 L1035.09,761.32 L1037.34,760.71 L1039.58,760.11 L1041.83,759.51 L1044.08,758.92 L1046.33,758.35 L1048.58,757.79 L1050.83,757.23 L1053.08,756.68 L1055.33,756.14 L1057.57,755.60 L1059.82,755.07 L1062.07,754.55 L1064.32,754.08 L1066.57,753.63 L1068.82,753.18 L1071.07,752.74 L1073.32,752.31 L1075.57,751.89 L1077.81,751.47 L1080.06,751.06 L1080.72,750.94 L1082.31,750.67 L1084.56,750.30 L1086.81,749.93 L1089.06,749.56 L1091.31,749.19 L1093.56,748.83 L1095.80,748.47 L1098.05,748.12 L1100.30,747.72 L1102.55,747.23 L1104.80,746.75 L1107.05,746.27 L1109.30,745.80 L1111.55,745.33 L1113.79,744.86 L1116.04,744.39 L1118.29,743.92 L1120.54,743.41 L1122.79,742.89 L1125.04,742.38 L1127.29,741.88 L1129.54,741.38 L1131.79,740.88 L1134.03,740.39 L1136.28,739.90 L1138.53,739.50 L1140.78,739.11 L1143.03,738.74 L1145.28,738.36 L1147.53,737.99 L1149.78,737.63 L1152.02,737.27 L1154.27,736.91 L1156.52,736.56 L1158.77,736.21 L1161.02,735.86 L1163.27,735.52 L1165.52,735.18 L1167.77,734.85 L1170.01,734.53 L1172.26,734.20 L1174.51,733.92 L1176.76,733.70 L1179.01,733.48 L1181.26,733.27 L1183.51,733.06 L1185.76,732.86 L1188.01,732.66 L1190.25,732.47 L1192.50,732.27 L1194.75,732.03 L1197.00,731.79 L1198.06,731.67 L1199.25,731.55 L1201.50,731.32 L1203.75,731.09 L1206.00,730.86 L1208.24,730.64 L1210.49,730.41 L1212.74,730.12 L1214.99,729.82 L1217.24,729.52 L1219.49,729.23 L1221.74,728.94 L1223.99,728.65 L1226.23,728.36 L1228.48,728.08 L1230.73,727.84 L1232.98,727.64 L1235.23,727.43 L1237.48,727.24 L1239.73,727.04 L1241.98,726.85 L1244.23,726.66 L1246.47,726.47 L1248.72,726.30 L1250.97,726.14 L1253.22,725.99 L1255.47,725.84 L1257.72,725.70 L1259.97,725.56 L1262.22,725.42 L1264.46,725.29 L1266.71,725.16 L1268.96,725.01 L1271.21,724.86 L1273.46,724.72 L1275.71,724.59 L1277.96,724.46 L1280.21,724.33 L1282.46,724.21 L1284.70,724.09" stroke="#91278d" stroke-width="2.3"/>
<path d="M728.70,1102.30 L747.24,997.13 L749.57,991.54 L751.90,986.03 L754.23,980.61 L756.57,975.28 L758.90,970.04 L761.23,964.89 L763.56,959.83 L765.89,954.88 L768.22,950.12 L770.56,945.46 L772.89,940.90 L775.22,936.45 L777.55,932.11 L779.88,927.87 L782.21,923.75 L784.55,919.74 L786.88,915.82 L789.21,912.03 L791.54,908.35 L793.87,904.79 L796.20,901.36 L798.54,898.05 L800.87,894.88 L803.20,891.81 L804.90,889.58 L805.53,888.77 L807.86,885.86 L810.20,883.06 L812.53,880.38 L814.86,877.79 L817.19,875.29 L819.52,872.87 L821.85,870.59 L824.19,868.60 L826.52,866.67 L828.85,864.78 L831.18,862.93 L833.51,861.11 L835.84,859.30 L838.18,857.51 L840.51,855.64 L842.84,853.55 L845.17,851.44 L846.04,850.65 L847.50,849.31 L849.83,847.17 L852.17,845.02 L854.50,842.87 L856.83,840.72 L859.16,838.61 L861.49,836.55 L863.82,834.51 L866.16,832.49 L868.49,830.50 L870.82,828.54 L873.15,826.62 L875.48,824.74 L877.81,822.87 L880.15,821.01 L882.48,819.20 L884.81,817.44 L887.14,815.75 L889.47,814.13 L891.80,812.58 L894.14,811.10 L896.47,809.69 L898.80,808.37 L901.13,807.07 L903.46,805.79 L905.79,804.53 L908.13,803.30 L910.46,802.10 L912.79,800.91 L915.12,799.73 L917.45,798.55 L919.78,797.39 L922.12,796.25 L924.45,795.12 L926.78,794.02 L929.11,792.94 L931.44,791.87 L933.77,790.81 L936.11,789.76 L938.44,788.72 L940.77,787.70 L943.10,786.70 L945.43,785.71 L947.76,784.74 L950.10,783.78 L952.43,782.84 L954.76,781.93 L957.09,781.03 L959.42,780.14 L961.75,779.27 L963.38,778.67 L964.09,778.41 L966.42,777.55 L968.75,776.69 L971.08,775.87 L973.41,775.08 L975.74,774.29 L978.08,773.51 L980.41,772.73 L982.74,771.96 L985.07,771.19 L987.40,770.43 L989.73,769.70 L992.07,769.00 L994.40,768.31 L996.73,767.63 L999.06,766.95 L1001.39,766.28 L1003.72,765.61 L1006.06,764.95 L1008.39,764.19 L1010.72,763.38 L1013.05,762.57 L1015.38,761.78 L1017.71,760.99 L1020.05,760.21 L1022.38,759.44 L1024.71,758.68 L1027.04,758.03 L1029.37,757.43 L1031.70,756.84 L1034.04,756.26 L1036.37,755.69 L1038.70,755.12 L1041.03,754.57 L1043.36,754.03 L1045.69,753.36 L1048.03,752.66 L1050.36,751.97 L1052.69,751.29 L1055.02,750.62 L1057.35,749.96 L1059.68,749.31 L1062.02,748.68 L1064.35,748.21 L1066.68,747.78 L1069.01,747.37 L1071.34,746.97 L1073.67,746.58 L1076.01,746.20 L1078.34,745.84 L1080.67,745.49 L1080.72,745.48 L1083.00,745.13 L1085.33,744.77 L1087.66,744.40 L1090.00,744.05 L1092.33,743.69 L1094.66,743.34 L1096.99,742.99 L1099.32,742.64 L1101.65,742.26 L1103.99,741.88 L1106.32,741.51 L1108.65,741.14 L1110.98,740.77 L1113.31,740.40 L1115.64,740.04 L1117.98,739.69 L1120.31,739.38 L1122.64,739.08 L1124.97,738.78 L1127.30,738.48 L1129.63,738.20 L1131.97,737.91 L1134.30,737.63 L1136.63,737.36 L1138.96,736.98 L1141.29,736.61 L1143.63,736.24 L1145.96,735.88 L1148.29,735.52 L1150.62,735.17 L1152.95,734.83 L1155.28,734.50 L1157.62,734.30 L1159.95,734.10 L1162.28,733.92 L1164.61,733.73 L1166.94,733.56 L1169.27,733.39 L1171.61,733.23 L1173.94,733.06 L1176.27,732.78 L1178.60,732.51 L1180.93,732.25 L1183.26,731.99 L1185.60,731.75 L1187.93,731.51 L1190.26,731.28 L1192.59,731.09 L1194.92,731.05 L1197.25,731.03 L1198.06,731.02 L1199.59,731.00 L1201.92,730.98 L1204.25,730.96 L1206.58,730.95 L1208.91,730.93 L1211.24,730.88 L1213.58,730.73 L1215.91,730.59 L1218.24,730.44 L1220.57,730.30 L1222.90,730.15 L1225.23,730.01 L1227.57,729.87 L1229.90,729.72 L1232.23,729.51 L1234.56,729.31 L1236.89,729.11 L1239.22,728.92 L1241.56,728.72 L1243.89,728.53 L1246.22,728.34 L1248.55,728.18 L1250.88,728.10 L1253.21,728.02 L1255.55,727.94 L1257.88,727.87 L1260.21,727.79 L1262.54,727.73 L1264.87,727.66 L1267.20,727.60 L1269.54,727.55 L1271.87,727.50 L1274.20,727.46 L1276.53,727.42 L1278.86,727.38 L1281.19,727.35 L1283.53,727.32 L1285.86,727.33 L1288.19,727.39 L1290.52,727.45 L1292.85,727.52 L1295.18,727.59 L1297.52,727.66 L1299.85,727.74 L1302.18,727.83 L1304.51,727.85" stroke="#008000" stroke-width="2.3"/>
<path d="M728.70,1102.30 L747.24,992.71 L749.49,987.34 L751.74,982.06 L753.99,976.85 L756.23,971.73 L758.48,966.69 L760.73,961.74 L762.98,956.87 L765.23,952.10 L767.48,947.20 L769.73,942.32 L771.98,937.54 L774.23,932.86 L776.47,928.27 L778.72,923.78 L780.97,919.39 L783.22,915.10 L785.47,910.93 L787.72,906.89 L789.97,902.96 L792.22,899.13 L794.46,895.42 L796.71,891.81 L798.96,888.32 L801.21,884.95 L803.46,881.75 L804.90,879.86 L805.71,878.82 L807.96,876.00 L810.21,873.29 L812.46,870.68 L814.70,868.16 L816.95,865.73 L819.20,863.37 L821.45,861.08 L823.70,858.65 L825.95,856.28 L828.20,853.95 L830.45,851.67 L832.69,849.42 L834.94,847.20 L837.19,845.00 L839.44,842.82 L841.69,840.71 L843.94,838.61 L846.04,836.65 L846.19,836.51 L848.44,834.41 L850.68,832.30 L852.93,830.19 L855.18,828.10 L857.43,826.01 L859.68,823.85 L861.93,821.63 L864.18,819.44 L866.43,817.27 L868.68,815.13 L870.92,813.02 L873.17,810.94 L875.42,808.91 L877.67,806.99 L879.92,805.30 L882.17,803.66 L884.42,802.08 L886.67,800.55 L888.91,799.09 L891.16,797.68 L893.41,796.35 L895.66,795.05 L897.91,793.58 L900.16,792.13 L902.41,790.72 L904.66,789.32 L906.90,787.95 L909.15,786.60 L911.40,785.28 L913.65,783.97 L915.90,782.82 L918.15,781.71 L920.40,780.63 L922.65,779.57 L924.90,778.52 L927.14,777.49 L929.39,776.48 L931.64,775.49 L933.89,774.41 L936.14,773.27 L938.39,772.14 L940.64,771.03 L942.89,769.93 L945.13,768.85 L947.38,767.77 L949.63,766.71 L951.88,765.73 L954.13,764.90 L956.38,764.08 L958.63,763.27 L960.88,762.47 L963.12,761.68 L963.38,761.59 L965.37,760.89 L967.62,760.11 L969.87,759.33 L972.12,758.46 L974.37,757.60 L976.62,756.74 L978.87,755.89 L981.12,755.04 L983.36,754.20 L985.61,753.36 L987.86,752.53 L990.11,751.66 L992.36,750.78 L994.61,749.90 L996.86,749.03 L999.11,748.17 L1001.35,747.31 L1003.60,746.46 L1005.85,745.61 L1008.10,744.72 L1010.35,743.78 L1012.60,742.86 L1014.85,741.93 L1017.10,741.02 L1019.34,740.11 L1021.59,739.22 L1023.84,738.32 L1026.09,737.54 L1028.34,736.97 L1030.59,736.40 L1032.84,735.84 L1035.09,735.30 L1037.34,734.75 L1039.58,734.22 L1041.83,733.69 L1044.08,733.17 L1046.33,732.59 L1048.58,732.01 L1050.83,731.44 L1053.08,730.89 L1055.33,730.34 L1057.57,729.80 L1059.82,729.26 L1062.07,728.74 L1064.32,728.14 L1066.57,727.54 L1068.82,726.95 L1071.07,726.36 L1073.32,725.79 L1075.57,725.22 L1077.81,724.67 L1080.06,724.12 L1080.72,723.96 L1082.31,723.47 L1084.56,722.75 L1086.81,722.04 L1089.06,721.32 L1091.31,720.61 L1093.56,719.90 L1095.80,719.19 L1098.05,718.48 L1100.30,717.91 L1102.55,717.57 L1104.80,717.24 L1107.05,716.91 L1109.30,716.58 L1111.55,716.26 L1113.79,715.94 L1116.04,715.62 L1118.29,715.29 L1120.54,714.82 L1122.79,714.36 L1125.04,713.90 L1127.29,713.44 L1129.54,712.99 L1131.79,712.54 L1134.03,712.10 L1136.28,711.67 L1138.53,711.23 L1140.78,710.80 L1143.03,710.37 L1145.28,709.95 L1147.53,709.54 L1149.78,709.13 L1152.02,708.73 L1154.27,708.34 L1156.52,707.93 L1158.77,707.52 L1161.02,707.11 L1163.27,706.71 L1165.52,706.31 L1167.77,705.93 L1170.01,705.56 L1172.26,705.19 L1174.51,704.87 L1176.76,704.62 L1179.01,704.38 L1181.26,704.15 L1183.51,703.93 L1185.76,703.72 L1188.01,703.52 L1190.25,703.34 L1192.50,703.15 L1194.75,702.95 L1197.00,702.76 L1198.06,702.67 L1199.25,702.57 L1201.50,702.39 L1203.75,702.21 L1206.00,702.03 L1208.24,701.85 L1210.49,701.67 L1212.74,701.51 L1214.99,701.35 L1217.24,701.19 L1219.49,701.03 L1221.74,700.87 L1223.99,700.72 L1226.23,700.57 L1228.48,700.43 L1230.73,700.29 L1232.98,700.16 L1235.23,700.03 L1237.48,699.90 L1239.73,699.78 L1241.98,699.67 L1244.23,699.55 L1246.47,699.45 L1248.72,699.33 L1250.97,699.18 L1253.22,699.05 L1255.47,698.92 L1257.72,698.79 L1259.97,698.67 L1262.22,698.56 L1264.46,698.45 L1266.71,698.35 L1268.96,698.29 L1271.21,698.23 L1273.46,698.17 L1275.71,698.13 L1277.96,698.09 L1280.21,698.06 L1282.46,698.04 L1284.70,698.02" stroke="#f27305" stroke-width="2.3"/>
<path d="M728.70,1102.30 L747.24,1009.87 L749.57,1005.09 L751.90,1000.40 L754.23,995.78 L756.57,991.24 L758.90,986.78 L761.23,982.41 L763.56,978.12 L765.89,973.90 L768.22,969.28 L770.56,964.75 L772.89,960.31 L775.22,955.97 L777.55,951.72 L779.88,947.57 L782.21,943.53 L784.55,939.61 L786.88,936.01 L789.21,932.51 L791.54,929.13 L793.87,925.86 L796.20,922.69 L798.54,919.65 L800.87,916.71 L803.20,913.91 L804.90,911.99 L805.53,911.29 L807.86,908.79 L810.20,906.40 L812.53,904.12 L814.86,901.93 L817.19,899.82 L819.52,897.78 L821.85,895.79 L824.19,893.78 L826.52,891.80 L828.85,889.86 L831.18,887.95 L833.51,886.06 L835.84,884.17 L838.18,882.28 L840.51,880.45 L842.84,878.82 L845.17,877.17 L846.04,876.54 L847.50,875.47 L849.83,873.75 L852.17,872.01 L854.50,870.26 L856.83,868.50 L859.16,866.69 L861.49,864.74 L863.82,862.80 L866.16,860.88 L868.49,858.98 L870.82,857.10 L873.15,855.26 L875.48,853.46 L877.81,851.67 L880.15,849.88 L882.48,848.14 L884.81,846.46 L887.14,844.85 L889.47,843.31 L891.80,841.85 L894.14,840.46 L896.47,839.14 L898.80,837.91 L901.13,836.70 L903.46,835.51 L905.79,834.34 L908.13,833.19 L910.46,832.06 L912.79,830.95 L915.12,829.74 L917.45,828.38 L919.78,827.04 L922.12,825.72 L924.45,824.42 L926.78,823.14 L929.11,821.88 L931.44,820.64 L933.77,819.59 L936.11,818.72 L938.44,817.87 L940.77,817.05 L943.10,816.24 L945.43,815.45 L947.76,814.69 L950.10,813.94 L952.43,813.29 L954.76,812.74 L957.09,812.21 L959.42,811.69 L961.75,811.19 L963.38,810.86 L964.09,810.72 L966.42,810.25 L968.75,809.79 L971.08,809.10 L973.41,808.25 L975.74,807.41 L978.08,806.58 L980.41,805.76 L982.74,804.94 L985.07,804.13 L987.40,803.32 L989.73,802.58 L992.07,801.88 L994.40,801.19 L996.73,800.50 L999.06,799.83 L1001.39,799.15 L1003.72,798.49 L1006.06,797.83 L1008.39,797.34 L1010.72,796.93 L1013.05,796.52 L1015.38,796.13 L1017.71,795.74 L1020.05,795.35 L1022.38,794.98 L1024.71,794.61 L1027.04,793.96 L1029.37,793.20 L1031.70,792.45 L1034.04,791.71 L1036.37,790.98 L1038.70,790.25 L1041.03,789.54 L1043.36,788.83 L1045.69,788.40 L1048.03,788.07 L1050.36,787.74 L1052.69,787.41 L1055.02,787.10 L1057.35,786.80 L1059.68,786.50 L1062.02,786.21 L1064.35,785.86 L1066.68,785.49 L1069.01,785.14 L1071.34,784.80 L1073.67,784.46 L1076.01,784.13 L1078.34,783.82 L1080.67,783.50 L1080.72,783.50 L1083.00,783.11 L1085.33,782.71 L1087.66,782.31 L1090.00,781.92 L1092.33,781.52 L1094.66,781.12 L1096.99,780.73 L1099.32,780.34 L1101.65,780.04 L1103.99,779.75 L1106.32,779.47 L1108.65,779.18 L1110.98,778.90 L1113.31,778.62 L1115.64,778.35 L1117.98,778.08 L1120.31,777.66 L1122.64,777.23 L1124.97,776.81 L1127.30,776.40 L1129.63,775.99 L1131.97,775.58 L1134.30,775.18 L1136.63,774.78 L1138.96,774.54 L1141.29,774.30 L1143.63,774.07 L1145.96,773.84 L1148.29,773.62 L1150.62,773.40 L1152.95,773.19 L1155.28,772.99 L1157.62,772.81 L1159.95,772.64 L1162.28,772.47 L1164.61,772.31 L1166.94,772.16 L1169.27,772.01 L1171.61,771.87 L1173.94,771.74 L1176.27,771.58 L1178.60,771.43 L1180.93,771.29 L1183.26,771.16 L1185.60,771.04 L1187.93,770.93 L1190.26,770.82 L1192.59,770.72 L1194.92,770.57 L1197.25,770.44 L1198.06,770.39 L1199.59,770.31 L1201.92,770.18 L1204.25,770.06 L1206.58,769.93 L1208.91,769.81 L1211.24,769.70 L1213.58,769.68 L1215.91,769.66 L1218.24,769.64 L1220.57,769.62 L1222.90,769.60 L1225.23,769.58 L1227.57,769.56 L1229.90,769.52 L1232.23,769.39 L1234.56,769.27 L1236.89,769.15 L1239.22,769.03 L1241.56,768.91 L1243.89,768.79 L1246.22,768.67 L1248.55,768.59 L1250.88,768.56 L1253.21,768.54 L1255.55,768.52 L1257.88,768.50 L1260.21,768.48 L1262.54,768.47 L1264.87,768.46 L1267.20,768.42 L1269.54,768.34 L1271.87,768.27 L1274.20,768.19 L1276.53,768.12 L1278.86,768.05 L1281.19,767.99 L1283.53,767.93 L1285.86,767.87 L1288.19,767.84 L1290.52,767.80 L1292.85,767.77 L1295.18,767.74 L1297.52,767.71 L1299.85,767.69 L1302.18,767.67 L1304.51,767.67" stroke="#0000ff" stroke-width="2.3"/>
<path d="M728.70,1102.30 L747.24,992.71 L749.49,987.00 L751.74,981.37 L753.99,975.82 L756.23,970.35 L758.48,964.97 L760.73,959.66 L762.98,954.44 L765.23,949.30 L767.48,944.65 L769.73,940.21 L771.98,935.85 L774.23,931.59 L776.47,927.43 L778.72,923.36 L780.97,919.38 L783.22,915.50 L785.47,911.58 L787.72,907.60 L789.97,903.73 L792.22,899.96 L794.46,896.30 L796.71,892.74 L798.96,889.30 L801.21,885.96 L803.46,882.74 L804.90,880.73 L805.71,879.63 L807.96,876.62 L810.21,873.72 L812.46,870.91 L814.70,868.19 L816.95,865.55 L819.20,862.99 L821.45,860.49 L823.70,858.07 L825.95,855.71 L828.20,853.39 L830.45,851.12 L832.69,848.89 L834.94,846.68 L837.19,844.50 L839.44,842.34 L841.69,840.18 L843.94,838.02 L846.04,836.00 L846.19,835.86 L848.44,833.70 L850.68,831.53 L852.93,829.38 L855.18,827.23 L857.43,825.10 L859.68,823.03 L861.93,821.03 L864.18,819.05 L866.43,817.10 L868.68,815.18 L870.92,813.29 L873.17,811.44 L875.42,809.63 L877.67,807.87 L879.92,806.16 L882.17,804.51 L884.42,802.91 L886.67,801.36 L888.91,799.88 L891.16,798.47 L893.41,797.13 L895.66,795.82 L897.91,794.50 L900.16,793.21 L902.41,791.94 L904.66,790.70 L906.90,789.48 L909.15,788.28 L911.40,787.10 L913.65,785.95 L915.90,784.70 L918.15,783.43 L920.40,782.19 L922.65,780.97 L924.90,779.76 L927.14,778.57 L929.39,777.40 L931.64,776.25 L933.89,775.21 L936.14,774.25 L938.39,773.31 L940.64,772.38 L942.89,771.46 L945.13,770.56 L947.38,769.68 L949.63,768.80 L951.88,767.92 L954.13,767.02 L956.38,766.14 L958.63,765.26 L960.88,764.39 L963.12,763.53 L963.38,763.44 L965.37,762.68 L967.62,761.83 L969.87,760.99 L972.12,760.29 L974.37,759.59 L976.62,758.89 L978.87,758.19 L981.12,757.50 L983.36,756.82 L985.61,756.14 L987.86,755.46 L990.11,754.67 L992.36,753.86 L994.61,753.06 L996.86,752.27 L999.11,751.48 L1001.35,750.69 L1003.60,749.91 L1005.85,749.14 L1008.10,748.29 L1010.35,747.38 L1012.60,746.47 L1014.85,745.58 L1017.10,744.69 L1019.34,743.81 L1021.59,742.93 L1023.84,742.07 L1026.09,741.29 L1028.34,740.66 L1030.59,740.04 L1032.84,739.43 L1035.09,738.84 L1037.34,738.25 L1039.58,737.67 L1041.83,737.10 L1044.08,736.54 L1046.33,735.94 L1048.58,735.36 L1050.83,734.78 L1053.08,734.22 L1055.33,733.67 L1057.57,733.13 L1059.82,732.60 L1062.07,732.09 L1064.32,731.51 L1066.57,730.92 L1068.82,730.36 L1071.07,729.80 L1073.32,729.26 L1075.57,728.73 L1077.81,728.21 L1080.06,727.71 L1080.72,727.57 L1082.31,727.36 L1084.56,727.11 L1086.81,726.86 L1089.06,726.61 L1091.31,726.36 L1093.56,726.12 L1095.80,725.88 L1098.05,725.65 L1100.30,725.35 L1102.55,724.93 L1104.80,724.52 L1107.05,724.11 L1109.30,723.71 L1111.55,723.31 L1113.79,722.92 L1116.04,722.52 L1118.29,722.15 L1120.54,721.88 L1122.79,721.61 L1125.04,721.34 L1127.29,721.08 L1129.54,720.83 L1131.79,720.58 L1134.03,720.33 L1136.28,720.09 L1138.53,719.82 L1140.78,719.56 L1143.03,719.30 L1145.28,719.05 L1147.53,718.80 L1149.78,718.55 L1152.02,718.31 L1154.27,718.08 L1156.52,717.83 L1158.77,717.57 L1161.02,717.32 L1163.27,717.08 L1165.52,716.83 L1167.77,716.60 L1170.01,716.37 L1172.26,716.15 L1174.51,715.91 L1176.76,715.63 L1179.01,715.35 L1181.26,715.08 L1183.51,714.82 L1185.76,714.57 L1188.01,714.32 L1190.25,714.08 L1192.50,713.86 L1194.75,713.77 L1197.00,713.69 L1198.06,713.65 L1199.25,713.61 L1201.50,713.53 L1203.75,713.45 L1206.00,713.38 L1208.24,713.30 L1210.49,713.22 L1212.74,713.12 L1214.99,713.02 L1217.24,712.92 L1219.49,712.82 L1221.74,712.72 L1223.99,712.63 L1226.23,712.53 L1228.48,712.44 L1230.73,712.30 L1232.98,712.14 L1235.23,711.98 L1237.48,711.82 L1239.73,711.66 L1241.98,711.50 L1244.23,711.35 L1246.47,711.21 L1248.72,711.08 L1250.97,710.97 L1253.22,710.87 L1255.47,710.78 L1257.72,710.69 L1259.97,710.60 L1262.22,710.51 L1264.46,710.44 L1266.71,710.37 L1268.96,710.34 L1271.21,710.32 L1273.46,710.30 L1275.71,710.29 L1277.96,710.29 L1280.21,710.29 L1282.46,710.30 L1284.70,710.31" stroke="#ffff00" stroke-width="2.3"/>
</g>
<rect x="728.9" y="637.5" width="593.5" height="464.8" fill="none" stroke="#000" stroke-width="2.3"/>
<line x1="728.9" y1="1102.3" x2="734.4" y2="1102.3" stroke="#000" stroke-width="1.6" stroke-linecap="butt"/>
<line x1="1322.4" y1="1102.3" x2="1316.9" y2="1102.3" stroke="#000" stroke-width="1.6" stroke-linecap="butt"/>
<text x="725.4" y="1107.9" font-family="'DejaVu Sans', 'Liberation Sans', sans-serif" font-size="15.5" font-weight="normal" text-anchor="end" fill="#000" textLength="10.0" lengthAdjust="spacingAndGlyphs" stroke="#000" stroke-width="0.7">0</text>
<line x1="728.9" y1="1047.0" x2="734.4" y2="1047.0" stroke="#000" stroke-width="1.6" stroke-linecap="butt"/>
<line x1="1322.4" y1="1047.0" x2="1316.9" y2="1047.0" stroke="#000" stroke-width="1.6" stroke-linecap="butt"/>
<text x="725.4" y="1052.5" font-family="'DejaVu Sans', 'Liberation Sans', sans-serif" font-size="15.5" font-weight="normal" text-anchor="end" fill="#000" textLength="30.5" lengthAdjust="spacingAndGlyphs" stroke="#000" stroke-width="0.7">100</text>
<line x1="728.9" y1="991.6" x2="734.4" y2="991.6" stroke="#000" stroke-width="1.6" stroke-linecap="butt"/>
<line x1="1322.4" y1="991.6" x2="1316.9" y2="991.6" stroke="#000" stroke-width="1.6" stroke-linecap="butt"/>
<text x="725.4" y="997.2" font-family="'DejaVu Sans', 'Liberation Sans', sans-serif" font-size="15.5" font-weight="normal" text-anchor="end" fill="#000" textLength="30.5" lengthAdjust="spacingAndGlyphs" stroke="#000" stroke-width="0.7">200</text>
<line x1="728.9" y1="936.2" x2="734.4" y2="936.2" stroke="#000" stroke-width="1.6" stroke-linecap="butt"/>
<line x1="1322.4" y1="936.2" x2="1316.9" y2="936.2" stroke="#000" stroke-width="1.6" stroke-linecap="butt"/>
<text x="725.4" y="941.9" font-family="'DejaVu Sans', 'Liberation Sans', sans-serif" font-size="15.5" font-weight="normal" text-anchor="end" fill="#000" textLength="30.5" lengthAdjust="spacingAndGlyphs" stroke="#000" stroke-width="0.7">300</text>
<line x1="728.9" y1="880.9" x2="734.4" y2="880.9" stroke="#000" stroke-width="1.6" stroke-linecap="butt"/>
<line x1="1322.4" y1="880.9" x2="1316.9" y2="880.9" stroke="#000" stroke-width="1.6" stroke-linecap="butt"/>
<text x="725.4" y="886.5" font-family="'DejaVu Sans', 'Liberation Sans', sans-serif" font-size="15.5" font-weight="normal" text-anchor="end" fill="#000" textLength="30.5" lengthAdjust="spacingAndGlyphs" stroke="#000" stroke-width="0.7">400</text>
<line x1="728.9" y1="825.5" x2="734.4" y2="825.5" stroke="#000" stroke-width="1.6" stroke-linecap="butt"/>
<line x1="1322.4" y1="825.5" x2="1316.9" y2="825.5" stroke="#000" stroke-width="1.6" stroke-linecap="butt"/>
<text x="725.4" y="831.1" font-family="'DejaVu Sans', 'Liberation Sans', sans-serif" font-size="15.5" font-weight="normal" text-anchor="end" fill="#000" textLength="30.5" lengthAdjust="spacingAndGlyphs" stroke="#000" stroke-width="0.7">500</text>
<line x1="728.9" y1="770.2" x2="734.4" y2="770.2" stroke="#000" stroke-width="1.6" stroke-linecap="butt"/>
<line x1="1322.4" y1="770.2" x2="1316.9" y2="770.2" stroke="#000" stroke-width="1.6" stroke-linecap="butt"/>
<text x="725.4" y="775.8" font-family="'DejaVu Sans', 'Liberation Sans', sans-serif" font-size="15.5" font-weight="normal" text-anchor="end" fill="#000" textLength="30.5" lengthAdjust="spacingAndGlyphs" stroke="#000" stroke-width="0.7">600</text>
<line x1="728.9" y1="714.8" x2="734.4" y2="714.8" stroke="#000" stroke-width="1.6" stroke-linecap="butt"/>
<line x1="1322.4" y1="714.8" x2="1316.9" y2="714.8" stroke="#000" stroke-width="1.6" stroke-linecap="butt"/>
<text x="725.4" y="720.4" font-family="'DejaVu Sans', 'Liberation Sans', sans-serif" font-size="15.5" font-weight="normal" text-anchor="end" fill="#000" textLength="30.5" lengthAdjust="spacingAndGlyphs" stroke="#000" stroke-width="0.7">700</text>
<line x1="728.9" y1="659.5" x2="734.4" y2="659.5" stroke="#000" stroke-width="1.6" stroke-linecap="butt"/>
<line x1="1322.4" y1="659.5" x2="1316.9" y2="659.5" stroke="#000" stroke-width="1.6" stroke-linecap="butt"/>
<text x="725.4" y="665.1" font-family="'DejaVu Sans', 'Liberation Sans', sans-serif" font-size="15.5" font-weight="normal" text-anchor="end" fill="#000" textLength="30.5" lengthAdjust="spacingAndGlyphs" stroke="#000" stroke-width="0.7">800</text>
<line x1="728.7" y1="1102.3" x2="728.7" y2="1096.8" stroke="#000" stroke-width="1.6" stroke-linecap="butt"/>
<line x1="728.7" y1="637.5" x2="728.7" y2="643.0" stroke="#000" stroke-width="1.6" stroke-linecap="butt"/>
<text x="729.7" y="1120.6" font-family="'DejaVu Sans', 'Liberation Sans', sans-serif" font-size="15.5" font-weight="normal" text-anchor="middle" fill="#000" textLength="10.0" lengthAdjust="spacingAndGlyphs" stroke="#000" stroke-width="0.7">0</text>
<line x1="846.0" y1="1102.3" x2="846.0" y2="1096.8" stroke="#000" stroke-width="1.6" stroke-linecap="butt"/>
<line x1="846.0" y1="637.5" x2="846.0" y2="643.0" stroke="#000" stroke-width="1.6" stroke-linecap="butt"/>
<text x="847.0" y="1120.6" font-family="'DejaVu Sans', 'Liberation Sans', sans-serif" font-size="15.5" font-weight="normal" text-anchor="middle" fill="#000" textLength="40.5" lengthAdjust="spacingAndGlyphs" stroke="#000" stroke-width="0.7">5000</text>
<line x1="963.4" y1="1102.3" x2="963.4" y2="1096.8" stroke="#000" stroke-width="1.6" stroke-linecap="butt"/>
<line x1="963.4" y1="637.5" x2="963.4" y2="643.0" stroke="#000" stroke-width="1.6" stroke-linecap="butt"/>
<text x="964.4" y="1120.6" font-family="'DejaVu Sans', 'Liberation Sans', sans-serif" font-size="15.5" font-weight="normal" text-anchor="middle" fill="#000" textLength="50.5" lengthAdjust="spacingAndGlyphs" stroke="#000" stroke-width="0.7">10000</text>
<line x1="1080.7" y1="1102.3" x2="1080.7" y2="1096.8" stroke="#000" stroke-width="1.6" stroke-linecap="butt"/>
<line x1="1080.7" y1="637.5" x2="1080.7" y2="643.0" stroke="#000" stroke-width="1.6" stroke-linecap="butt"/>
<text x="1081.7" y="1120.6" font-family="'DejaVu Sans', 'Liberation Sans', sans-serif" font-size="15.5" font-weight="normal" text-anchor="middle" fill="#000" textLength="50.5" lengthAdjust="spacingAndGlyphs" stroke="#000" stroke-width="0.7">15000</text>
<line x1="1198.1" y1="1102.3" x2="1198.1" y2="1096.8" stroke="#000" stroke-width="1.6" stroke-linecap="butt"/>
<line x1="1198.1" y1="637.5" x2="1198.1" y2="643.0" stroke="#000" stroke-width="1.6" stroke-linecap="butt"/>
<text x="1199.1" y="1120.6" font-family="'DejaVu Sans', 'Liberation Sans', sans-serif" font-size="15.5" font-weight="normal" text-anchor="middle" fill="#000" textLength="50.5" lengthAdjust="spacingAndGlyphs" stroke="#000" stroke-width="0.7">20000</text>
<line x1="1315.4" y1="1102.3" x2="1315.4" y2="1096.8" stroke="#000" stroke-width="1.6" stroke-linecap="butt"/>
<line x1="1315.4" y1="637.5" x2="1315.4" y2="643.0" stroke="#000" stroke-width="1.6" stroke-linecap="butt"/>
<text x="1316.4" y="1120.6" font-family="'DejaVu Sans', 'Liberation Sans', sans-serif" font-size="15.5" font-weight="normal" text-anchor="middle" fill="#000" textLength="50.5" lengthAdjust="spacingAndGlyphs" stroke="#000" stroke-width="0.7">25000</text>
<text x="1025.7" y="631.1" font-family="'DejaVu Sans', 'Liberation Sans', sans-serif" font-size="19" font-weight="normal" text-anchor="middle" fill="#000" textLength="292.0" lengthAdjust="spacingAndGlyphs" stroke="#000" stroke-width="0.7">observed_species: Description</text>
<text x="869.0" y="1212.2" font-family="'Liberation Serif', 'Times New Roman', serif" font-size="36" font-weight="bold" text-anchor="start" fill="#000" textLength="342.0" lengthAdjust="spacingAndGlyphs" stroke="#000" stroke-width="0.4">Sequences per sample</text>
<text transform="translate(680.3,881.6) rotate(-90)" x="0" y="0" font-family="'Liberation Serif', 'Times New Roman', serif" font-size="37.5" font-weight="bold" text-anchor="middle" textLength="275.0" lengthAdjust="spacingAndGlyphs">Observed species</text>
<rect x="1424.9" y="648.7" width="13.5" height="13.5" fill="#ff0000"/>
<text x="1455.0" y="657.9" font-family="'Liberation Sans', Arial, sans-serif" font-size="23" font-weight="bold" text-anchor="start" fill="#000" textLength="75.0" lengthAdjust="spacingAndGlyphs" stroke="#000" stroke-width="0.4">FTMR1</text>
<rect x="1424.9" y="691.6" width="13.5" height="13.5" fill="#0000ff"/>
<text x="1455.0" y="700.9" font-family="'Liberation Sans', Arial, sans-serif" font-size="23" font-weight="bold" text-anchor="start" fill="#000" textLength="75.0" lengthAdjust="spacingAndGlyphs" stroke="#000" stroke-width="0.4">FTMR2</text>
<rect x="1424.9" y="734.6" width="13.5" height="13.5" fill="#f27305"/>
<text x="1455.0" y="743.8" font-family="'Liberation Sans', Arial, sans-serif" font-size="23" font-weight="bold" text-anchor="start" fill="#000" textLength="75.0" lengthAdjust="spacingAndGlyphs" stroke="#000" stroke-width="0.4">FTMR3</text>
<rect x="1424.9" y="777.5" width="13.5" height="13.5" fill="#008000"/>
<text x="1455.0" y="786.8" font-family="'Liberation Sans', Arial, sans-serif" font-size="23" font-weight="bold" text-anchor="start" fill="#000" textLength="75.0" lengthAdjust="spacingAndGlyphs" stroke="#000" stroke-width="0.4">FTMR4</text>
<rect x="1424.9" y="820.5" width="13.5" height="13.5" fill="#91278d"/>
<text x="1455.0" y="829.7" font-family="'Liberation Sans', Arial, sans-serif" font-size="23" font-weight="bold" text-anchor="start" fill="#000" textLength="75.0" lengthAdjust="spacingAndGlyphs" stroke="#000" stroke-width="0.4">FTMR5</text>
<rect x="1424.9" y="863.4" width="13.5" height="13.5" fill="#ffff00"/>
<text x="1455.0" y="872.6" font-family="'Liberation Sans', Arial, sans-serif" font-size="23" font-weight="bold" text-anchor="start" fill="#000" textLength="75.0" lengthAdjust="spacingAndGlyphs" stroke="#000" stroke-width="0.4">FTMR6</text>
<rect x="1424.9" y="906.4" width="13.5" height="13.5" fill="#7dedf5"/>
<text x="1461.5" y="915.6" font-family="'Liberation Sans', Arial, sans-serif" font-size="23" font-weight="bold" text-anchor="start" fill="#000" textLength="64.0" lengthAdjust="spacingAndGlyphs" stroke="#000" stroke-width="0.4">TMR1</text>
<rect x="1424.9" y="949.3" width="13.5" height="13.5" fill="#f59ac3"/>
<text x="1461.5" y="958.5" font-family="'Liberation Sans', Arial, sans-serif" font-size="23" font-weight="bold" text-anchor="start" fill="#000" textLength="64.0" lengthAdjust="spacingAndGlyphs" stroke="#000" stroke-width="0.4">TMR2</text>
<rect x="1424.9" y="992.3" width="13.5" height="13.5" fill="#5da19f"/>
<text x="1461.5" y="1001.5" font-family="'Liberation Sans', Arial, sans-serif" font-size="23" font-weight="bold" text-anchor="start" fill="#000" textLength="64.0" lengthAdjust="spacingAndGlyphs" stroke="#000" stroke-width="0.4">TMR3</text>
<rect x="1424.9" y="1035.2" width="13.5" height="13.5" fill="#6b450c"/>
<text x="1461.5" y="1044.5" font-family="'Liberation Sans', Arial, sans-serif" font-size="23" font-weight="bold" text-anchor="start" fill="#000" textLength="64.0" lengthAdjust="spacingAndGlyphs" stroke="#000" stroke-width="0.4">TMR4</text>
<rect x="1424.9" y="1078.2" width="13.5" height="13.5" fill="#808080"/>
<text x="1461.5" y="1087.4" font-family="'Liberation Sans', Arial, sans-serif" font-size="23" font-weight="bold" text-anchor="start" fill="#000" textLength="64.0" lengthAdjust="spacingAndGlyphs" stroke="#000" stroke-width="0.4">TMR5</text>
<rect x="1424.9" y="1121.1" width="13.5" height="13.5" fill="#02f50f"/>
<text x="1461.5" y="1130.3" font-family="'Liberation Sans', Arial, sans-serif" font-size="23" font-weight="bold" text-anchor="start" fill="#000" textLength="64.0" lengthAdjust="spacingAndGlyphs" stroke="#000" stroke-width="0.4">TMR6</text>
</svg></div></body></html>
